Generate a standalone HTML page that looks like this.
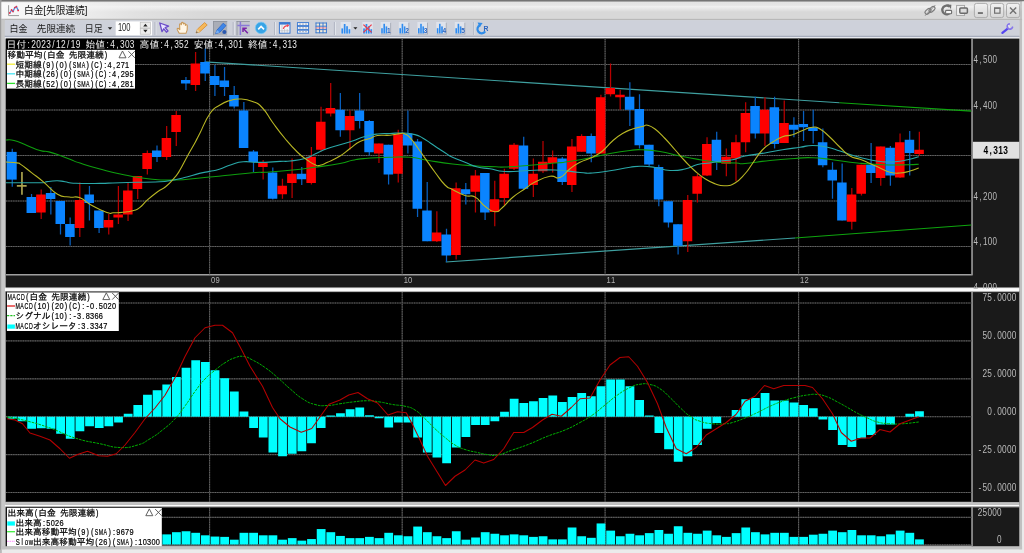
<!DOCTYPE html>
<html lang="ja"><head><meta charset="utf-8"><title>白金[先限連続]</title>
<style>
html,body{margin:0;padding:0;background:#e6e6e6;overflow:hidden}
svg{display:block}
.j{font-family:"Liberation Mono","IPAGothic","Noto Sans CJK JP",monospace}
.m{font-family:"Liberation Mono","IPAGothic",monospace}
.u{font-family:"Liberation Sans","Noto Sans CJK JP",sans-serif}
</style></head><body>
<svg width="1024" height="553" viewBox="0 0 1024 553">
<defs>
<linearGradient id="tb" x1="0" y1="0" x2="0" y2="1"><stop offset="0" stop-color="#9a9a9a"/><stop offset="0.05" stop-color="#e3e3e3"/><stop offset="0.22" stop-color="#e6e6e6"/><stop offset="0.29" stop-color="#f0f0f0"/><stop offset="0.36" stop-color="#ececec"/><stop offset="0.61" stop-color="#d8d8d8"/><stop offset="1" stop-color="#d8d8d8"/></linearGradient>
<linearGradient id="tbh" x1="0" y1="0" x2="1" y2="0"><stop offset="0" stop-color="#fafafa" stop-opacity="0.95"/><stop offset="0.3" stop-color="#f6f6f6" stop-opacity="0.85"/><stop offset="0.65" stop-color="#f2f2f2" stop-opacity="0.35"/><stop offset="1" stop-color="#f0f0f0" stop-opacity="0"/></linearGradient>
<linearGradient id="btn" x1="0" y1="0" x2="0" y2="1"><stop offset="0" stop-color="#f2f2f2"/><stop offset="1" stop-color="#d6d6d6"/></linearGradient>
<linearGradient id="sp" x1="0" y1="0" x2="0" y2="1"><stop offset="0" stop-color="#b8b8b8"/><stop offset="0.35" stop-color="#ffffff"/><stop offset="0.7" stop-color="#f4f4f4"/><stop offset="1" stop-color="#9a9a9a"/></linearGradient>
<clipPath id="c1"><rect x="6" y="38.7" width="965.5" height="235.5"/></clipPath>
<clipPath id="c2"><rect x="6" y="292" width="965.5" height="209.8"/></clipPath>
<clipPath id="c3"><rect x="6" y="507.3" width="965.5" height="38.1"/></clipPath>
<clipPath id="cax"><rect x="972" y="38" width="48" height="251"/></clipPath>
</defs>

<rect x="0" y="0" width="1024" height="553" fill="#e2e2e2"/>
<rect x="0" y="0" width="1024" height="1.5" fill="#757575"/>
<rect x="0" y="0" width="1.6" height="553" fill="#9c9c9c"/>
<rect x="1.6" y="1.4" width="1021" height="17.4" fill="url(#tb)"/>
<rect x="1.6" y="2.4" width="205" height="16.4" fill="url(#tbh)"/>
<rect x="1.6" y="18.8" width="1021" height="1.5" fill="#b8b8b8"/>
<rect x="1.6" y="19.6" width="3.4" height="534" fill="#c8c8c8"/>
<rect x="1019.3" y="19.6" width="2.8" height="530" fill="#c0c0c0"/>
<rect x="1020.4" y="1.4" width="1.2" height="18" fill="#b4b4b4"/>
<rect x="1022.1" y="1.4" width="1.9" height="552" fill="#ebebeb"/>
<rect x="4.8" y="20.2" width="1014.6" height="15.7" fill="#ced1da"/>
<rect x="4.8" y="35.8" width="1014.6" height="1.1" fill="#9aa0b2"/>
<rect x="4.8" y="36.9" width="1014.6" height="1.8" fill="#e6e8ee"/>
<rect x="1.6" y="546" width="1020.5" height="3.6" fill="#c2c2c2"/>
<rect x="1.6" y="549.6" width="1022.4" height="3.4" fill="#ebebeb"/>
<rect x="0" y="549.6" width="1.6" height="3.4" fill="#b8b8b8"/>
<rect x="5.6" y="38.6" width="1013.6999999999999" height="507.6" fill="#1a1a1a"/>
<rect x="6" y="38.7" width="965.5" height="235.5" fill="#000"/>
<rect x="971.2" y="38.7" width="1.7" height="236.7" fill="#939393"/>
<rect x="6" y="274.2" width="965.5" height="1.2" fill="#c4c4c4"/>
<rect x="6" y="292" width="965.5" height="209.8" fill="#000"/>
<rect x="971.2" y="292" width="1.7" height="211.0" fill="#939393"/>
<rect x="6" y="501.8" width="965.5" height="1.2" fill="#c4c4c4"/>
<rect x="6" y="507.3" width="965.5" height="38.099999999999966" fill="#000"/>
<rect x="971.2" y="507.3" width="1.7" height="39.29999999999997" fill="#939393"/>
<rect x="6" y="545.4" width="965.5" height="1.2" fill="#c4c4c4"/>
<rect x="5" y="287.7" width="1014.3" height="3.3" fill="#fbfbfb"/>
<rect x="5" y="287.7" width="1014.3" height="0.5" fill="#d8d8d8"/>
<rect x="5" y="291" width="1014.3" height="1.1" fill="#b0b0b0"/>
<rect x="5" y="502.1" width="1014.3" height="2.8" fill="#c2c2c2"/>
<rect x="5" y="504.8" width="1014.3" height="1.7" fill="#fdfdfd"/>
<rect x="5" y="506.4" width="1014.3" height="0.9" fill="#cfcfcf"/>
<line x1="6" y1="64.5" x2="971.5" y2="64.5" stroke="#383838" stroke-width="1.15"/>
<line x1="6" y1="64.5" x2="971.5" y2="64.5" stroke="#747474" stroke-width="0.75" stroke-dasharray="1.2 1.2"/>
<line x1="6" y1="110" x2="971.5" y2="110" stroke="#383838" stroke-width="1.15"/>
<line x1="6" y1="110" x2="971.5" y2="110" stroke="#747474" stroke-width="0.75" stroke-dasharray="1.2 1.2"/>
<line x1="6" y1="155.5" x2="971.5" y2="155.5" stroke="#383838" stroke-width="1.15"/>
<line x1="6" y1="155.5" x2="971.5" y2="155.5" stroke="#747474" stroke-width="0.75" stroke-dasharray="1.2 1.2"/>
<line x1="6" y1="201" x2="971.5" y2="201" stroke="#383838" stroke-width="1.15"/>
<line x1="6" y1="201" x2="971.5" y2="201" stroke="#747474" stroke-width="0.75" stroke-dasharray="1.2 1.2"/>
<line x1="6" y1="246.5" x2="971.5" y2="246.5" stroke="#383838" stroke-width="1.15"/>
<line x1="6" y1="246.5" x2="971.5" y2="246.5" stroke="#747474" stroke-width="0.75" stroke-dasharray="1.2 1.2"/>
<line x1="6" y1="303" x2="971.5" y2="303" stroke="#383838" stroke-width="1.15"/>
<line x1="6" y1="303" x2="971.5" y2="303" stroke="#747474" stroke-width="0.75" stroke-dasharray="1.2 1.2"/>
<line x1="6" y1="340.9" x2="971.5" y2="340.9" stroke="#383838" stroke-width="1.15"/>
<line x1="6" y1="340.9" x2="971.5" y2="340.9" stroke="#747474" stroke-width="0.75" stroke-dasharray="1.2 1.2"/>
<line x1="6" y1="378.8" x2="971.5" y2="378.8" stroke="#383838" stroke-width="1.15"/>
<line x1="6" y1="378.8" x2="971.5" y2="378.8" stroke="#747474" stroke-width="0.75" stroke-dasharray="1.2 1.2"/>
<line x1="6" y1="416.7" x2="971.5" y2="416.7" stroke="#383838" stroke-width="1.15"/>
<line x1="6" y1="416.7" x2="971.5" y2="416.7" stroke="#747474" stroke-width="0.75" stroke-dasharray="1.2 1.2"/>
<line x1="6" y1="454.6" x2="971.5" y2="454.6" stroke="#383838" stroke-width="1.15"/>
<line x1="6" y1="454.6" x2="971.5" y2="454.6" stroke="#747474" stroke-width="0.75" stroke-dasharray="1.2 1.2"/>
<line x1="6" y1="492.5" x2="971.5" y2="492.5" stroke="#383838" stroke-width="1.15"/>
<line x1="6" y1="492.5" x2="971.5" y2="492.5" stroke="#747474" stroke-width="0.75" stroke-dasharray="1.2 1.2"/>
<line x1="6" y1="517.3" x2="971.5" y2="517.3" stroke="#383838" stroke-width="1.15"/>
<line x1="6" y1="517.3" x2="971.5" y2="517.3" stroke="#747474" stroke-width="0.75" stroke-dasharray="1.2 1.2"/>
<line x1="6" y1="544.8" x2="971.5" y2="544.8" stroke="#383838" stroke-width="1.15"/>
<line x1="6" y1="544.8" x2="971.5" y2="544.8" stroke="#747474" stroke-width="0.75" stroke-dasharray="1.2 1.2"/>
<line x1="209.6" y1="38.7" x2="209.6" y2="274.2" stroke="#383838" stroke-width="1.15"/>
<line x1="209.6" y1="38.7" x2="209.6" y2="274.2" stroke="#747474" stroke-width="0.75" stroke-dasharray="1.2 1.2"/>
<line x1="209.6" y1="292" x2="209.6" y2="501.8" stroke="#383838" stroke-width="1.15"/>
<line x1="209.6" y1="292" x2="209.6" y2="501.8" stroke="#747474" stroke-width="0.75" stroke-dasharray="1.2 1.2"/>
<line x1="209.6" y1="507.3" x2="209.6" y2="545.4" stroke="#383838" stroke-width="1.15"/>
<line x1="209.6" y1="507.3" x2="209.6" y2="545.4" stroke="#747474" stroke-width="0.75" stroke-dasharray="1.2 1.2"/>
<line x1="402.2" y1="38.7" x2="402.2" y2="274.2" stroke="#383838" stroke-width="1.15"/>
<line x1="402.2" y1="38.7" x2="402.2" y2="274.2" stroke="#747474" stroke-width="0.75" stroke-dasharray="1.2 1.2"/>
<line x1="402.2" y1="292" x2="402.2" y2="501.8" stroke="#383838" stroke-width="1.15"/>
<line x1="402.2" y1="292" x2="402.2" y2="501.8" stroke="#747474" stroke-width="0.75" stroke-dasharray="1.2 1.2"/>
<line x1="402.2" y1="507.3" x2="402.2" y2="545.4" stroke="#383838" stroke-width="1.15"/>
<line x1="402.2" y1="507.3" x2="402.2" y2="545.4" stroke="#747474" stroke-width="0.75" stroke-dasharray="1.2 1.2"/>
<line x1="605.1" y1="38.7" x2="605.1" y2="274.2" stroke="#383838" stroke-width="1.15"/>
<line x1="605.1" y1="38.7" x2="605.1" y2="274.2" stroke="#747474" stroke-width="0.75" stroke-dasharray="1.2 1.2"/>
<line x1="605.1" y1="292" x2="605.1" y2="501.8" stroke="#383838" stroke-width="1.15"/>
<line x1="605.1" y1="292" x2="605.1" y2="501.8" stroke="#747474" stroke-width="0.75" stroke-dasharray="1.2 1.2"/>
<line x1="605.1" y1="507.3" x2="605.1" y2="545.4" stroke="#383838" stroke-width="1.15"/>
<line x1="605.1" y1="507.3" x2="605.1" y2="545.4" stroke="#747474" stroke-width="0.75" stroke-dasharray="1.2 1.2"/>
<line x1="798.6" y1="38.7" x2="798.6" y2="274.2" stroke="#383838" stroke-width="1.15"/>
<line x1="798.6" y1="38.7" x2="798.6" y2="274.2" stroke="#747474" stroke-width="0.75" stroke-dasharray="1.2 1.2"/>
<line x1="798.6" y1="292" x2="798.6" y2="501.8" stroke="#383838" stroke-width="1.15"/>
<line x1="798.6" y1="292" x2="798.6" y2="501.8" stroke="#747474" stroke-width="0.75" stroke-dasharray="1.2 1.2"/>
<line x1="798.6" y1="507.3" x2="798.6" y2="545.4" stroke="#383838" stroke-width="1.15"/>
<line x1="798.6" y1="507.3" x2="798.6" y2="545.4" stroke="#747474" stroke-width="0.75" stroke-dasharray="1.2 1.2"/>
<g clip-path="url(#c1)">
<line x1="204.6" y1="61.8" x2="839.5" y2="102.75" stroke="#3fa0a0" stroke-width="1.2"/>
<line x1="839.5" y1="102.75" x2="971.5" y2="111.2" stroke="#0ea40e" stroke-width="1.2"/>
<line x1="445.75" y1="262" x2="795" y2="238" stroke="#3fa0a0" stroke-width="1.2"/>
<line x1="795" y1="238" x2="971.5" y2="225" stroke="#0ea40e" stroke-width="1.2"/>
<line x1="12.25" x2="12.25" y1="148.7" y2="186.7" stroke="#0860c0" stroke-width="1.25"/>
<rect x="6.6" y="151.9" width="10.1" height="27.70" fill="#0a84ff"/>
<line x1="21.95" x2="21.95" y1="172" y2="194.8" stroke="#aaa24e" stroke-width="1.7"/>
<line x1="16.85" x2="26.65" y1="185.9" y2="185.9" stroke="#aaa24e" stroke-width="1.7"/>
<line x1="31.55" x2="31.55" y1="194" y2="213" stroke="#0860c0" stroke-width="1.25"/>
<rect x="26.55" y="197" width="9.5" height="16.00" fill="#0a84ff"/>
<line x1="41.20" x2="41.20" y1="189.5" y2="219" stroke="#b80000" stroke-width="1.25"/>
<rect x="36.20" y="194.5" width="9.5" height="18.00" fill="#ff0000"/>
<line x1="50.85" x2="50.85" y1="187" y2="214.5" stroke="#0860c0" stroke-width="1.25"/>
<rect x="45.85" y="193" width="9.5" height="6.00" fill="#0a84ff"/>
<line x1="60.50" x2="60.50" y1="201" y2="234.5" stroke="#0860c0" stroke-width="1.25"/>
<rect x="55.50" y="201" width="9.5" height="23.00" fill="#0a84ff"/>
<line x1="70.15" x2="70.15" y1="217.5" y2="245.5" stroke="#0860c0" stroke-width="1.25"/>
<rect x="65.15" y="224" width="9.5" height="13.00" fill="#0a84ff"/>
<line x1="79.80" x2="79.80" y1="182.5" y2="237" stroke="#b80000" stroke-width="1.25"/>
<rect x="74.80" y="200" width="9.5" height="28.00" fill="#ff0000"/>
<line x1="89.45" x2="89.45" y1="186" y2="220.5" stroke="#0860c0" stroke-width="1.25"/>
<rect x="84.45" y="194.5" width="9.5" height="8.50" fill="#0a84ff"/>
<line x1="99.10" x2="99.10" y1="210.5" y2="233" stroke="#0860c0" stroke-width="1.25"/>
<rect x="94.10" y="210.5" width="9.5" height="17.50" fill="#0a84ff"/>
<line x1="108.75" x2="108.75" y1="214" y2="234.5" stroke="#b80000" stroke-width="1.25"/>
<rect x="103.75" y="220" width="9.5" height="7.50" fill="#ff0000"/>
<line x1="118.40" x2="118.40" y1="186" y2="224" stroke="#b80000" stroke-width="1.25"/>
<rect x="113.40" y="214.5" width="9.5" height="3.00" fill="#ff0000"/>
<line x1="128.05" x2="128.05" y1="182.5" y2="221" stroke="#b80000" stroke-width="1.25"/>
<rect x="123.05" y="190.5" width="9.5" height="24.00" fill="#ff0000"/>
<line x1="137.70" x2="137.70" y1="176" y2="199" stroke="#b80000" stroke-width="1.25"/>
<rect x="132.70" y="176" width="9.5" height="13.00" fill="#ff0000"/>
<line x1="147.35" x2="147.35" y1="150.5" y2="174.5" stroke="#b80000" stroke-width="1.25"/>
<rect x="142.35" y="153" width="9.5" height="16.00" fill="#ff0000"/>
<line x1="157.00" x2="157.00" y1="145.5" y2="162" stroke="#0860c0" stroke-width="1.25"/>
<rect x="152.00" y="150.5" width="9.5" height="6.50" fill="#0a84ff"/>
<line x1="166.65" x2="166.65" y1="126" y2="160" stroke="#b80000" stroke-width="1.25"/>
<rect x="161.65" y="138" width="9.5" height="19.00" fill="#ff0000"/>
<line x1="176.30" x2="176.30" y1="111" y2="146" stroke="#b80000" stroke-width="1.25"/>
<rect x="171.30" y="115" width="9.5" height="17.00" fill="#ff0000"/>
<line x1="185.95" x2="185.95" y1="77" y2="90" stroke="#0860c0" stroke-width="1.25"/>
<rect x="180.95" y="80" width="9.5" height="3.50" fill="#0a84ff"/>
<line x1="195.60" x2="195.60" y1="52" y2="91" stroke="#b80000" stroke-width="1.25"/>
<rect x="190.60" y="63.5" width="9.5" height="21.50" fill="#ff0000"/>
<line x1="205.25" x2="205.25" y1="48.5" y2="81" stroke="#0860c0" stroke-width="1.25"/>
<rect x="200.25" y="62" width="9.5" height="11.50" fill="#0a84ff"/>
<line x1="214.90" x2="214.90" y1="65" y2="96" stroke="#0860c0" stroke-width="1.25"/>
<rect x="209.90" y="76" width="9.5" height="9.00" fill="#0a84ff"/>
<line x1="224.55" x2="224.55" y1="67" y2="96" stroke="#0860c0" stroke-width="1.25"/>
<rect x="219.55" y="80.5" width="9.5" height="6.50" fill="#0a84ff"/>
<line x1="234.20" x2="234.20" y1="86" y2="108.5" stroke="#0860c0" stroke-width="1.25"/>
<rect x="229.20" y="95" width="9.5" height="11.50" fill="#0a84ff"/>
<line x1="243.85" x2="243.85" y1="102" y2="148" stroke="#0860c0" stroke-width="1.25"/>
<rect x="238.85" y="110.5" width="9.5" height="37.50" fill="#0a84ff"/>
<line x1="253.50" x2="253.50" y1="150" y2="172" stroke="#0860c0" stroke-width="1.25"/>
<rect x="248.50" y="151.5" width="9.5" height="10.50" fill="#0a84ff"/>
<line x1="263.15" x2="263.15" y1="160" y2="179.5" stroke="#b80000" stroke-width="1.25"/>
<rect x="258.15" y="163" width="9.5" height="4.00" fill="#ff0000"/>
<line x1="272.80" x2="272.80" y1="167.5" y2="199.5" stroke="#0860c0" stroke-width="1.25"/>
<rect x="267.80" y="172.5" width="9.5" height="26.25" fill="#0a84ff"/>
<line x1="282.45" x2="282.45" y1="178.75" y2="198.75" stroke="#b80000" stroke-width="1.25"/>
<rect x="277.45" y="185.75" width="9.5" height="8.50" fill="#ff0000"/>
<line x1="292.10" x2="292.10" y1="158.5" y2="198" stroke="#b80000" stroke-width="1.25"/>
<rect x="287.10" y="173.75" width="9.5" height="9.25" fill="#ff0000"/>
<line x1="301.75" x2="301.75" y1="167" y2="185" stroke="#0860c0" stroke-width="1.25"/>
<rect x="296.75" y="173.75" width="9.5" height="5.50" fill="#0a84ff"/>
<line x1="311.40" x2="311.40" y1="147" y2="184.5" stroke="#b80000" stroke-width="1.25"/>
<rect x="306.40" y="156.75" width="9.5" height="26.25" fill="#ff0000"/>
<line x1="321.05" x2="321.05" y1="106.75" y2="151.5" stroke="#b80000" stroke-width="1.25"/>
<rect x="316.05" y="121.75" width="9.5" height="28.00" fill="#ff0000"/>
<line x1="330.70" x2="330.70" y1="83" y2="116.5" stroke="#b80000" stroke-width="1.25"/>
<rect x="325.70" y="108" width="9.5" height="5.50" fill="#ff0000"/>
<line x1="340.35" x2="340.35" y1="93" y2="136.75" stroke="#0860c0" stroke-width="1.25"/>
<rect x="335.35" y="109.75" width="9.5" height="20.50" fill="#0a84ff"/>
<line x1="350.00" x2="350.00" y1="110.5" y2="149.75" stroke="#b80000" stroke-width="1.25"/>
<rect x="345.00" y="116" width="9.5" height="14.25" fill="#ff0000"/>
<line x1="359.65" x2="359.65" y1="93" y2="128.5" stroke="#0860c0" stroke-width="1.25"/>
<rect x="354.65" y="110.5" width="9.5" height="10.50" fill="#0a84ff"/>
<line x1="369.30" x2="369.30" y1="120" y2="155.5" stroke="#0860c0" stroke-width="1.25"/>
<rect x="364.30" y="121" width="9.5" height="31.25" fill="#0a84ff"/>
<line x1="378.95" x2="378.95" y1="143.5" y2="163" stroke="#b80000" stroke-width="1.25"/>
<rect x="373.95" y="143.5" width="9.5" height="10.00" fill="#ff0000"/>
<line x1="388.60" x2="388.60" y1="144.75" y2="184.5" stroke="#0860c0" stroke-width="1.25"/>
<rect x="383.60" y="144.75" width="9.5" height="29.75" fill="#0a84ff"/>
<line x1="398.25" x2="398.25" y1="129.75" y2="182.5" stroke="#b80000" stroke-width="1.25"/>
<rect x="393.25" y="134.25" width="9.5" height="39.50" fill="#ff0000"/>
<line x1="407.90" x2="407.90" y1="110.5" y2="153.5" stroke="#0860c0" stroke-width="1.25"/>
<rect x="402.90" y="133.5" width="9.5" height="12.00" fill="#0a84ff"/>
<line x1="417.55" x2="417.55" y1="139" y2="217" stroke="#0860c0" stroke-width="1.25"/>
<rect x="412.55" y="141.5" width="9.5" height="67.25" fill="#0a84ff"/>
<line x1="427.20" x2="427.20" y1="182" y2="241.25" stroke="#0860c0" stroke-width="1.25"/>
<rect x="422.20" y="210.5" width="9.5" height="30.75" fill="#0a84ff"/>
<line x1="436.85" x2="436.85" y1="211.25" y2="242" stroke="#b80000" stroke-width="1.25"/>
<rect x="431.85" y="232.5" width="9.5" height="8.75" fill="#ff0000"/>
<line x1="446.50" x2="446.50" y1="228.75" y2="262" stroke="#0860c0" stroke-width="1.25"/>
<rect x="441.50" y="234.5" width="9.5" height="21.00" fill="#0a84ff"/>
<line x1="456.15" x2="456.15" y1="182.5" y2="259.5" stroke="#b80000" stroke-width="1.25"/>
<rect x="451.15" y="188.25" width="9.5" height="66.75" fill="#ff0000"/>
<line x1="465.80" x2="465.80" y1="183" y2="204.5" stroke="#0860c0" stroke-width="1.25"/>
<rect x="460.80" y="189.25" width="9.5" height="5.00" fill="#0a84ff"/>
<line x1="475.45" x2="475.45" y1="170" y2="212.5" stroke="#b80000" stroke-width="1.25"/>
<rect x="470.45" y="175.5" width="9.5" height="16.25" fill="#ff0000"/>
<line x1="485.10" x2="485.10" y1="173" y2="220" stroke="#0860c0" stroke-width="1.25"/>
<rect x="480.10" y="173" width="9.5" height="39.50" fill="#0a84ff"/>
<line x1="494.75" x2="494.75" y1="180.75" y2="226.25" stroke="#b80000" stroke-width="1.25"/>
<rect x="489.75" y="199.25" width="9.5" height="12.75" fill="#ff0000"/>
<line x1="504.40" x2="504.40" y1="168.75" y2="205" stroke="#b80000" stroke-width="1.25"/>
<rect x="499.40" y="173.75" width="9.5" height="24.25" fill="#ff0000"/>
<line x1="514.05" x2="514.05" y1="143" y2="170" stroke="#b80000" stroke-width="1.25"/>
<rect x="509.05" y="144.75" width="9.5" height="24.00" fill="#ff0000"/>
<line x1="523.70" x2="523.70" y1="136.75" y2="189.5" stroke="#0860c0" stroke-width="1.25"/>
<rect x="518.70" y="145.5" width="9.5" height="43.25" fill="#0a84ff"/>
<line x1="533.35" x2="533.35" y1="158.5" y2="197" stroke="#b80000" stroke-width="1.25"/>
<rect x="528.35" y="173.75" width="9.5" height="11.25" fill="#ff0000"/>
<line x1="543.00" x2="543.00" y1="141" y2="173" stroke="#b80000" stroke-width="1.25"/>
<rect x="538.00" y="161.75" width="9.5" height="9.50" fill="#ff0000"/>
<line x1="552.65" x2="552.65" y1="150.5" y2="172.5" stroke="#b80000" stroke-width="1.25"/>
<rect x="547.65" y="157.25" width="9.5" height="5.75" fill="#ff0000"/>
<line x1="562.30" x2="562.30" y1="157" y2="185" stroke="#0860c0" stroke-width="1.25"/>
<rect x="557.30" y="158.5" width="9.5" height="23.50" fill="#0a84ff"/>
<line x1="571.95" x2="571.95" y1="139" y2="192" stroke="#b80000" stroke-width="1.25"/>
<rect x="566.95" y="146.5" width="9.5" height="38.50" fill="#ff0000"/>
<line x1="581.60" x2="581.60" y1="134.25" y2="151.75" stroke="#b80000" stroke-width="1.25"/>
<rect x="576.60" y="136" width="9.5" height="15.75" fill="#ff0000"/>
<line x1="591.25" x2="591.25" y1="133.5" y2="162.25" stroke="#0860c0" stroke-width="1.25"/>
<rect x="586.25" y="136" width="9.5" height="17.50" fill="#0a84ff"/>
<line x1="600.90" x2="600.90" y1="94.75" y2="153.5" stroke="#b80000" stroke-width="1.25"/>
<rect x="595.90" y="97.25" width="9.5" height="56.25" fill="#ff0000"/>
<line x1="610.55" x2="610.55" y1="63.5" y2="96.5" stroke="#b80000" stroke-width="1.25"/>
<rect x="605.55" y="88" width="9.5" height="6.25" fill="#ff0000"/>
<line x1="620.20" x2="620.20" y1="89.75" y2="109.75" stroke="#b80000" stroke-width="1.25"/>
<rect x="615.20" y="94.75" width="9.5" height="2.50" fill="#ff0000"/>
<line x1="629.85" x2="629.85" y1="82.25" y2="126" stroke="#0860c0" stroke-width="1.25"/>
<rect x="624.85" y="96.75" width="9.5" height="13.00" fill="#0a84ff"/>
<line x1="639.50" x2="639.50" y1="94.25" y2="148.5" stroke="#0860c0" stroke-width="1.25"/>
<rect x="634.50" y="109" width="9.5" height="36.25" fill="#0a84ff"/>
<line x1="649.15" x2="649.15" y1="144.75" y2="166" stroke="#0860c0" stroke-width="1.25"/>
<rect x="644.15" y="144.75" width="9.5" height="19.75" fill="#0a84ff"/>
<line x1="658.80" x2="658.80" y1="164.75" y2="206.25" stroke="#0860c0" stroke-width="1.25"/>
<rect x="653.80" y="167" width="9.5" height="32.50" fill="#0a84ff"/>
<line x1="668.45" x2="668.45" y1="201.25" y2="227.5" stroke="#0860c0" stroke-width="1.25"/>
<rect x="663.45" y="201.25" width="9.5" height="21.25" fill="#0a84ff"/>
<line x1="678.10" x2="678.10" y1="224.25" y2="254.5" stroke="#0860c0" stroke-width="1.25"/>
<rect x="673.10" y="224.25" width="9.5" height="21.50" fill="#0a84ff"/>
<line x1="687.75" x2="687.75" y1="195" y2="252" stroke="#b80000" stroke-width="1.25"/>
<rect x="682.75" y="200" width="9.5" height="41.25" fill="#ff0000"/>
<line x1="697.40" x2="697.40" y1="174" y2="202.5" stroke="#b80000" stroke-width="1.25"/>
<rect x="692.40" y="176.25" width="9.5" height="17.50" fill="#ff0000"/>
<line x1="707.05" x2="707.05" y1="137.25" y2="176" stroke="#b80000" stroke-width="1.25"/>
<rect x="702.05" y="144" width="9.5" height="31.50" fill="#ff0000"/>
<line x1="716.70" x2="716.70" y1="131.75" y2="170" stroke="#0860c0" stroke-width="1.25"/>
<rect x="711.70" y="139.75" width="9.5" height="22.50" fill="#0a84ff"/>
<line x1="726.35" x2="726.35" y1="148.5" y2="176.25" stroke="#b80000" stroke-width="1.25"/>
<rect x="721.35" y="156.75" width="9.5" height="7.00" fill="#ff0000"/>
<line x1="736.00" x2="736.00" y1="134.75" y2="181.25" stroke="#b80000" stroke-width="1.25"/>
<rect x="731.00" y="142.25" width="9.5" height="16.25" fill="#ff0000"/>
<line x1="745.65" x2="745.65" y1="102.25" y2="152.25" stroke="#b80000" stroke-width="1.25"/>
<rect x="740.65" y="113" width="9.5" height="29.25" fill="#ff0000"/>
<line x1="755.30" x2="755.30" y1="96.75" y2="138.5" stroke="#0860c0" stroke-width="1.25"/>
<rect x="750.30" y="106" width="9.5" height="27.50" fill="#0a84ff"/>
<line x1="764.95" x2="764.95" y1="97.25" y2="146" stroke="#b80000" stroke-width="1.25"/>
<rect x="759.95" y="109.75" width="9.5" height="23.75" fill="#ff0000"/>
<line x1="774.60" x2="774.60" y1="96.75" y2="148.5" stroke="#0860c0" stroke-width="1.25"/>
<rect x="769.60" y="107.25" width="9.5" height="36.75" fill="#0a84ff"/>
<line x1="784.25" x2="784.25" y1="100.5" y2="143" stroke="#b80000" stroke-width="1.25"/>
<rect x="779.25" y="123" width="9.5" height="20.00" fill="#ff0000"/>
<line x1="793.90" x2="793.90" y1="117.25" y2="137.25" stroke="#0860c0" stroke-width="1.25"/>
<rect x="788.90" y="124.75" width="9.5" height="5.00" fill="#0a84ff"/>
<line x1="803.55" x2="803.55" y1="111" y2="141" stroke="#0860c0" stroke-width="1.25"/>
<rect x="798.55" y="124" width="9.5" height="3.25" fill="#0a84ff"/>
<line x1="813.20" x2="813.20" y1="109.75" y2="143.5" stroke="#0860c0" stroke-width="1.25"/>
<rect x="808.20" y="127.25" width="9.5" height="3.75" fill="#0a84ff"/>
<line x1="822.85" x2="822.85" y1="128.5" y2="167.25" stroke="#0860c0" stroke-width="1.25"/>
<rect x="817.85" y="142.25" width="9.5" height="23.00" fill="#0a84ff"/>
<line x1="832.50" x2="832.50" y1="162.25" y2="198.75" stroke="#0860c0" stroke-width="1.25"/>
<rect x="827.50" y="169.75" width="9.5" height="10.75" fill="#0a84ff"/>
<line x1="842.15" x2="842.15" y1="163.5" y2="220.5" stroke="#0860c0" stroke-width="1.25"/>
<rect x="837.15" y="182.5" width="9.5" height="38.00" fill="#0a84ff"/>
<line x1="851.80" x2="851.80" y1="188" y2="229.5" stroke="#b80000" stroke-width="1.25"/>
<rect x="846.80" y="194.5" width="9.5" height="27.25" fill="#ff0000"/>
<line x1="861.45" x2="861.45" y1="164.75" y2="195.5" stroke="#b80000" stroke-width="1.25"/>
<rect x="856.45" y="164.75" width="9.5" height="29.00" fill="#ff0000"/>
<line x1="871.10" x2="871.10" y1="143" y2="183" stroke="#0860c0" stroke-width="1.25"/>
<rect x="866.10" y="164.75" width="9.5" height="8.25" fill="#0a84ff"/>
<line x1="880.75" x2="880.75" y1="146.5" y2="185.75" stroke="#b80000" stroke-width="1.25"/>
<rect x="875.75" y="146.5" width="9.5" height="31.50" fill="#ff0000"/>
<line x1="890.40" x2="890.40" y1="146" y2="185.75" stroke="#0860c0" stroke-width="1.25"/>
<rect x="885.40" y="147.75" width="9.5" height="27.75" fill="#0a84ff"/>
<line x1="900.05" x2="900.05" y1="133.5" y2="178" stroke="#b80000" stroke-width="1.25"/>
<rect x="895.05" y="142.25" width="9.5" height="35.25" fill="#ff0000"/>
<line x1="909.70" x2="909.70" y1="131" y2="175.5" stroke="#0860c0" stroke-width="1.25"/>
<rect x="904.70" y="139.75" width="9.5" height="13.25" fill="#0a84ff"/>
<line x1="919.35" x2="919.35" y1="131.75" y2="156" stroke="#b80000" stroke-width="1.25"/>
<rect x="914.35" y="149.75" width="9.5" height="4.25" fill="#ff0000"/>
<path d="M6.00 140.00 C8.13 140.13 8.40 139.06 14.00 140.50 C19.60 141.94 20.07 142.73 27.00 145.40 C33.93 148.07 34.16 148.77 40.00 150.50 C45.84 152.23 43.35 150.51 48.90 151.90 C54.45 153.29 55.01 153.67 60.80 155.70 C66.59 157.73 65.48 157.53 70.60 159.50 C75.72 161.47 72.16 160.57 80.00 163.10 C87.84 165.63 88.00 165.83 100.00 169.00 C112.00 172.17 111.67 172.33 125.00 175.00 C138.33 177.67 136.67 177.67 150.00 179.00 C163.33 180.33 161.67 180.27 175.00 180.00 C188.33 179.73 186.67 179.20 200.00 178.00 C213.33 176.80 210.07 176.97 225.00 175.50 C239.93 174.03 245.33 173.37 256.00 172.50 C265.00 171.63 256.00 172.85 265.00 172.25 C274.07 171.65 276.67 171.58 290.00 170.25 C303.33 168.92 301.67 169.05 315.00 167.25 C328.33 165.45 330.00 165.37 340.00 163.50 C350.00 161.63 345.83 161.58 352.50 160.25 C359.17 158.92 355.00 159.30 365.00 158.50 C375.00 157.70 378.00 157.58 390.00 157.25 C402.00 156.92 400.00 156.45 410.00 157.25 C420.00 158.05 416.17 158.45 427.50 160.25 C438.83 162.05 439.17 162.47 452.50 164.00 C465.83 165.53 465.90 165.27 477.50 166.00 C489.10 166.73 488.67 166.48 496.00 166.75 C503.33 167.02 496.00 167.40 505.00 167.00 C514.07 166.60 516.67 166.32 530.00 165.25 C543.33 164.18 545.00 163.93 555.00 163.00 C565.00 162.07 557.50 163.28 567.50 161.75 C577.50 160.22 581.17 159.45 592.50 157.25 C603.83 155.05 600.00 155.30 610.00 153.50 C620.00 151.70 621.33 151.50 630.00 150.50 C638.67 149.50 634.50 149.48 642.50 149.75 C650.50 150.02 650.00 149.83 660.00 151.50 C670.00 153.17 669.33 153.80 680.00 156.00 C690.67 158.20 690.00 158.08 700.00 159.75 C710.00 161.42 707.90 161.38 717.50 162.25 C727.10 163.12 728.67 162.67 736.00 163.00 C743.33 163.33 736.00 164.17 745.00 163.50 C754.07 162.83 756.67 161.83 770.00 160.50 C783.33 159.17 783.67 159.23 795.00 158.50 C806.33 157.77 802.50 157.42 812.50 157.75 C822.50 158.08 820.50 158.35 832.50 159.75 C844.50 161.15 844.17 161.67 857.50 163.00 C870.83 164.33 869.17 164.28 882.50 164.75 C895.83 165.22 897.83 164.88 907.50 164.75 C917.17 164.62 915.75 164.38 918.75 164.25" fill="none" stroke="#0e9e0e" stroke-width="1.1" stroke-linejoin="round" />
<path d="M6.00 182.70 C15.87 182.70 32.07 182.99 43.00 182.70 C47.00 182.41 43.13 182.11 47.00 181.60 C50.87 181.09 52.70 180.75 57.50 180.80 C62.30 180.85 60.07 181.13 65.00 181.80 C69.93 182.47 66.67 182.87 76.00 183.30 C85.33 183.73 88.32 183.56 100.00 183.40 C111.68 183.24 103.91 183.15 119.80 182.70 C135.69 182.25 146.32 182.23 159.60 181.70 C169.60 181.17 163.23 181.74 169.60 180.70 C175.97 179.66 175.55 179.75 183.50 177.80 C191.45 175.85 192.49 175.11 199.40 173.40 C206.31 171.69 204.09 172.52 209.40 171.40 C214.71 170.28 213.49 170.96 219.30 169.20 C225.11 167.44 224.83 166.77 231.20 164.80 C237.57 162.83 235.76 162.44 243.20 161.80 C250.64 161.16 249.29 162.51 259.10 162.40 C268.91 162.29 271.76 161.77 280.00 161.40 C288.24 161.03 283.33 161.77 290.00 161.00 C296.67 160.23 298.33 160.37 305.00 158.50 C311.67 156.63 309.00 156.67 315.00 154.00 C321.00 151.33 320.83 150.97 327.50 148.50 C334.17 146.03 333.33 146.75 340.00 144.75 C346.67 142.75 345.83 143.20 352.50 141.00 C359.17 138.80 358.33 138.37 365.00 136.50 C371.67 134.63 370.83 134.80 377.50 134.00 C384.17 133.20 383.33 133.77 390.00 133.50 C396.67 133.23 395.83 132.71 402.50 133.00 C409.17 133.29 409.53 133.19 415.00 134.60 C420.47 136.01 418.84 136.01 423.00 138.30 C427.16 140.59 426.60 140.56 430.60 143.20 C434.60 145.84 433.95 145.51 438.00 148.20 C442.05 150.89 441.93 150.89 445.80 153.30 C449.67 155.71 447.38 154.86 452.50 157.25 C457.62 159.64 458.33 159.65 465.00 162.25 C471.67 164.85 470.83 165.27 477.50 167.00 C484.17 168.73 482.67 167.55 490.00 168.75 C497.33 169.95 494.33 171.03 505.00 171.50 C515.67 171.97 516.67 170.90 530.00 170.50 C543.33 170.10 541.67 169.47 555.00 170.00 C568.33 170.53 570.00 171.70 580.00 172.50 C590.00 173.30 584.50 173.47 592.50 173.00 C600.50 172.53 600.00 172.28 610.00 170.75 C620.00 169.22 621.33 168.45 630.00 167.25 C638.67 166.05 635.83 166.18 642.50 166.25 C649.17 166.32 647.67 166.37 655.00 167.50 C662.33 168.63 662.00 170.10 670.00 170.50 C678.00 170.90 677.67 170.60 685.00 169.00 C692.33 167.40 690.83 166.10 697.50 164.50 C704.17 162.90 704.00 163.93 710.00 163.00 C716.00 162.07 714.00 161.87 720.00 161.00 C726.00 160.13 725.83 161.08 732.50 159.75 C739.17 158.42 736.33 157.80 745.00 156.00 C753.67 154.20 755.00 154.67 765.00 153.00 C775.00 151.33 773.17 151.28 782.50 149.75 C791.83 148.22 792.00 148.38 800.00 147.25 C808.00 146.12 805.17 145.50 812.50 145.50 C819.83 145.50 820.17 145.78 827.50 147.25 C834.83 148.72 832.67 148.67 840.00 151.00 C847.33 153.33 847.00 153.67 855.00 156.00 C863.00 158.33 862.67 158.22 870.00 159.75 C877.33 161.28 875.83 161.22 882.50 161.75 C889.17 162.28 888.33 162.28 895.00 161.75 C901.67 161.22 901.17 161.08 907.50 159.75 C913.83 158.42 915.75 157.55 918.75 156.75" fill="none" stroke="#2aa8a8" stroke-width="1.1" stroke-linejoin="round" />
<path d="M6.00 162.00 C8.93 162.24 13.00 162.21 17.00 162.90 C21.00 163.59 17.13 162.01 21.00 164.60 C24.87 167.19 25.53 168.01 31.50 172.60 C37.47 177.19 36.47 176.01 43.40 181.80 C50.33 187.59 50.54 190.25 57.50 194.30 C64.46 198.35 63.50 196.07 69.50 197.00 C75.50 197.93 74.00 195.51 80.00 197.80 C86.00 200.09 84.83 201.65 92.00 205.60 C99.17 209.55 101.30 210.68 106.90 212.60 C112.50 214.52 109.56 212.80 113.00 212.80 C116.44 212.80 116.07 212.87 119.80 212.60 C123.53 212.33 123.29 212.33 127.00 211.80 C130.71 211.27 130.31 211.72 133.70 210.60 C137.09 209.48 135.97 210.51 139.70 207.60 C143.43 204.69 142.93 203.94 147.70 199.70 C152.47 195.46 152.83 195.17 157.60 191.70 C162.37 188.23 161.36 190.14 165.60 186.70 C169.84 183.26 169.79 183.04 173.50 178.80 C177.21 174.56 175.77 176.91 179.50 170.80 C183.23 164.69 183.26 163.61 187.50 155.90 C191.74 148.19 192.07 148.01 195.40 141.90 C198.73 135.79 196.11 140.57 200.00 133.00 C203.89 125.43 204.67 120.97 210.00 113.50 C215.33 106.03 214.67 108.47 220.00 105.00 C225.33 101.53 224.67 102.10 230.00 100.50 C235.33 98.90 234.00 98.73 240.00 99.00 C246.00 99.27 246.50 99.10 252.50 101.50 C258.50 103.90 257.17 102.47 262.50 108.00 C267.83 113.53 266.50 114.12 272.50 122.25 C278.50 130.38 278.33 130.50 285.00 138.50 C291.67 146.50 291.50 146.45 297.50 152.25 C303.50 158.05 302.83 156.92 307.50 160.25 C312.17 163.58 311.67 163.42 315.00 164.75 C318.33 166.08 316.67 165.92 320.00 165.25 C323.33 164.58 322.17 164.72 327.50 162.25 C332.83 159.78 334.00 159.67 340.00 156.00 C346.00 152.33 344.67 152.37 350.00 148.50 C355.33 144.63 354.67 144.17 360.00 141.50 C365.33 138.83 365.33 140.10 370.00 138.50 C374.67 136.90 372.17 136.37 377.50 135.50 C382.83 134.63 384.00 135.76 390.00 135.25 C396.00 134.74 396.00 133.93 400.00 133.60 C404.00 133.27 402.23 132.80 405.00 134.00 C407.77 135.20 406.93 134.31 410.40 138.10 C413.87 141.89 414.29 143.13 418.00 148.20 C421.71 153.27 419.77 150.69 424.30 157.10 C428.83 163.51 429.48 164.81 435.00 172.25 C440.52 179.69 440.33 180.40 445.00 185.00 C449.67 189.60 447.17 186.70 452.50 189.50 C457.83 192.30 459.00 193.50 465.00 195.50 C471.00 197.50 469.67 194.13 475.00 197.00 C480.33 199.87 479.67 202.32 485.00 206.25 C490.33 210.18 490.33 211.42 495.00 211.75 C499.67 212.08 497.83 211.30 502.50 207.50 C507.17 203.70 506.50 202.50 512.50 197.50 C518.50 192.50 519.00 192.88 525.00 188.75 C531.00 184.62 528.33 185.33 535.00 182.00 C541.67 178.67 543.33 177.45 550.00 176.25 C556.67 175.05 554.67 179.50 560.00 177.50 C565.33 175.50 564.67 172.82 570.00 168.75 C575.33 164.68 574.00 165.32 580.00 162.25 C586.00 159.18 586.50 160.25 592.50 157.25 C598.50 154.25 597.17 155.33 602.50 151.00 C607.83 146.67 607.17 145.67 612.50 141.00 C617.83 136.33 617.17 136.70 622.50 133.50 C627.83 130.30 627.17 130.87 632.50 129.00 C637.83 127.13 638.50 127.50 642.50 126.50 C646.50 125.50 644.17 124.58 647.50 125.25 C650.83 125.92 650.33 125.47 655.00 129.00 C659.67 132.53 659.67 132.97 665.00 138.50 C670.33 144.03 669.67 143.75 675.00 149.75 C680.33 155.75 679.67 155.33 685.00 161.00 C690.33 166.67 689.67 166.27 695.00 171.00 C700.33 175.73 699.67 175.35 705.00 178.75 C710.33 182.15 709.67 181.88 715.00 183.75 C720.33 185.62 719.67 185.95 725.00 185.75 C730.33 185.55 729.67 186.20 735.00 183.00 C740.33 179.80 740.33 178.95 745.00 173.75 C749.67 168.55 747.83 169.90 752.50 163.50 C757.17 157.10 757.17 155.42 762.50 149.75 C767.83 144.08 767.17 145.72 772.50 142.25 C777.83 138.78 777.17 138.75 782.50 136.75 C787.83 134.75 787.17 136.42 792.50 134.75 C797.83 133.08 797.17 132.50 802.50 130.50 C807.83 128.50 807.83 127.65 812.50 127.25 C817.17 126.85 815.33 126.33 820.00 129.00 C824.67 131.67 824.67 132.38 830.00 137.25 C835.33 142.12 834.67 142.25 840.00 147.25 C845.33 152.25 844.67 152.80 850.00 156.00 C855.33 159.20 854.67 157.25 860.00 159.25 C865.33 161.25 864.67 161.17 870.00 163.50 C875.33 165.83 874.67 165.67 880.00 168.00 C885.33 170.33 884.67 170.92 890.00 172.25 C895.33 173.58 894.67 173.33 900.00 173.00 C905.33 172.67 905.00 172.33 910.00 171.00 C915.00 169.67 916.42 168.80 918.75 168.00" fill="none" stroke="#b8b624" stroke-width="1.1" stroke-linejoin="round" />
</g>
<g clip-path="url(#c2)">
<rect x="7.95" y="416.70" width="8.8" height="2.05" fill="#00ffff"/>
<rect x="17.60" y="416.70" width="8.8" height="4.55" fill="#00ffff"/>
<rect x="27.25" y="416.70" width="8.8" height="12.05" fill="#00ffff"/>
<rect x="36.90" y="416.70" width="8.8" height="11.55" fill="#00ffff"/>
<rect x="46.55" y="416.70" width="8.8" height="12.05" fill="#00ffff"/>
<rect x="56.20" y="416.70" width="8.8" height="17.05" fill="#00ffff"/>
<rect x="65.85" y="416.70" width="8.8" height="22.05" fill="#00ffff"/>
<rect x="75.50" y="416.70" width="8.8" height="14.55" fill="#00ffff"/>
<rect x="85.15" y="416.70" width="8.8" height="9.55" fill="#00ffff"/>
<rect x="94.80" y="416.70" width="8.8" height="11.30" fill="#00ffff"/>
<rect x="104.45" y="416.70" width="8.8" height="9.55" fill="#00ffff"/>
<rect x="114.10" y="416.70" width="8.8" height="5.80" fill="#00ffff"/>
<rect x="123.75" y="413.75" width="8.8" height="2.95" fill="#00ffff"/>
<rect x="133.40" y="405.00" width="8.8" height="11.70" fill="#00ffff"/>
<rect x="143.05" y="394.75" width="8.8" height="21.95" fill="#00ffff"/>
<rect x="152.70" y="390.25" width="8.8" height="26.45" fill="#00ffff"/>
<rect x="162.35" y="384.50" width="8.8" height="32.20" fill="#00ffff"/>
<rect x="172.00" y="377.00" width="8.8" height="39.70" fill="#00ffff"/>
<rect x="181.65" y="367.75" width="8.8" height="48.95" fill="#00ffff"/>
<rect x="191.30" y="360.25" width="8.8" height="56.45" fill="#00ffff"/>
<rect x="200.95" y="362.00" width="8.8" height="54.70" fill="#00ffff"/>
<rect x="210.60" y="370.25" width="8.8" height="46.45" fill="#00ffff"/>
<rect x="220.25" y="378.25" width="8.8" height="38.45" fill="#00ffff"/>
<rect x="229.90" y="391.50" width="8.8" height="25.20" fill="#00ffff"/>
<rect x="239.55" y="411.50" width="8.8" height="5.20" fill="#00ffff"/>
<rect x="249.20" y="416.70" width="8.8" height="11.30" fill="#00ffff"/>
<rect x="258.85" y="416.70" width="8.8" height="20.80" fill="#00ffff"/>
<rect x="268.50" y="416.70" width="8.8" height="35.80" fill="#00ffff"/>
<rect x="278.15" y="416.70" width="8.8" height="39.55" fill="#00ffff"/>
<rect x="287.80" y="416.70" width="8.8" height="37.05" fill="#00ffff"/>
<rect x="297.45" y="416.70" width="8.8" height="34.55" fill="#00ffff"/>
<rect x="307.10" y="416.70" width="8.8" height="26.55" fill="#00ffff"/>
<rect x="316.75" y="416.70" width="8.8" height="11.30" fill="#00ffff"/>
<rect x="326.40" y="415.50" width="8.8" height="1.20" fill="#00ffff"/>
<rect x="336.05" y="413.25" width="8.8" height="3.45" fill="#00ffff"/>
<rect x="345.70" y="409.25" width="8.8" height="7.45" fill="#00ffff"/>
<rect x="355.35" y="407.50" width="8.8" height="9.20" fill="#00ffff"/>
<rect x="365.00" y="415.25" width="8.8" height="1.45" fill="#00ffff"/>
<rect x="374.65" y="416.70" width="8.8" height="1.55" fill="#00ffff"/>
<rect x="384.30" y="416.70" width="8.8" height="10.80" fill="#00ffff"/>
<rect x="393.95" y="416.70" width="8.8" height="5.80" fill="#00ffff"/>
<rect x="403.60" y="416.70" width="8.8" height="5.80" fill="#00ffff"/>
<rect x="413.25" y="416.70" width="8.8" height="20.80" fill="#00ffff"/>
<rect x="422.90" y="416.70" width="8.8" height="35.80" fill="#00ffff"/>
<rect x="432.55" y="416.70" width="8.8" height="40.80" fill="#00ffff"/>
<rect x="442.20" y="416.70" width="8.8" height="46.55" fill="#00ffff"/>
<rect x="451.85" y="416.70" width="8.8" height="30.80" fill="#00ffff"/>
<rect x="461.50" y="416.70" width="8.8" height="20.30" fill="#00ffff"/>
<rect x="471.15" y="416.70" width="8.8" height="8.30" fill="#00ffff"/>
<rect x="480.80" y="416.70" width="8.8" height="8.30" fill="#00ffff"/>
<rect x="490.45" y="416.70" width="8.8" height="4.55" fill="#00ffff"/>
<rect x="500.10" y="411.75" width="8.8" height="4.95" fill="#00ffff"/>
<rect x="509.75" y="398.75" width="8.8" height="17.95" fill="#00ffff"/>
<rect x="519.40" y="403.00" width="8.8" height="13.70" fill="#00ffff"/>
<rect x="529.05" y="401.25" width="8.8" height="15.45" fill="#00ffff"/>
<rect x="538.70" y="398.00" width="8.8" height="18.70" fill="#00ffff"/>
<rect x="548.35" y="395.50" width="8.8" height="21.20" fill="#00ffff"/>
<rect x="558.00" y="402.00" width="8.8" height="14.70" fill="#00ffff"/>
<rect x="567.65" y="397.00" width="8.8" height="19.70" fill="#00ffff"/>
<rect x="577.30" y="393.00" width="8.8" height="23.70" fill="#00ffff"/>
<rect x="586.95" y="396.25" width="8.8" height="20.45" fill="#00ffff"/>
<rect x="596.60" y="386.25" width="8.8" height="30.45" fill="#00ffff"/>
<rect x="606.25" y="379.50" width="8.8" height="37.20" fill="#00ffff"/>
<rect x="615.90" y="379.50" width="8.8" height="37.20" fill="#00ffff"/>
<rect x="625.55" y="386.25" width="8.8" height="30.45" fill="#00ffff"/>
<rect x="635.20" y="400.00" width="8.8" height="16.70" fill="#00ffff"/>
<rect x="644.85" y="415.50" width="8.8" height="1.20" fill="#00ffff"/>
<rect x="654.50" y="416.70" width="8.8" height="16.30" fill="#00ffff"/>
<rect x="664.15" y="416.70" width="8.8" height="32.55" fill="#00ffff"/>
<rect x="673.80" y="416.70" width="8.8" height="45.05" fill="#00ffff"/>
<rect x="683.45" y="416.70" width="8.8" height="39.55" fill="#00ffff"/>
<rect x="693.10" y="416.70" width="8.8" height="28.30" fill="#00ffff"/>
<rect x="702.75" y="416.70" width="8.8" height="12.05" fill="#00ffff"/>
<rect x="712.40" y="416.70" width="8.8" height="6.30" fill="#00ffff"/>
<rect x="731.70" y="410.00" width="8.8" height="6.70" fill="#00ffff"/>
<rect x="741.35" y="399.25" width="8.8" height="17.45" fill="#00ffff"/>
<rect x="751.00" y="398.00" width="8.8" height="18.70" fill="#00ffff"/>
<rect x="760.65" y="393.00" width="8.8" height="23.70" fill="#00ffff"/>
<rect x="770.30" y="400.50" width="8.8" height="16.20" fill="#00ffff"/>
<rect x="779.95" y="400.50" width="8.8" height="16.20" fill="#00ffff"/>
<rect x="789.60" y="402.50" width="8.8" height="14.20" fill="#00ffff"/>
<rect x="799.25" y="405.00" width="8.8" height="11.70" fill="#00ffff"/>
<rect x="808.90" y="408.25" width="8.8" height="8.45" fill="#00ffff"/>
<rect x="818.55" y="416.70" width="8.8" height="2.80" fill="#00ffff"/>
<rect x="828.20" y="416.70" width="8.8" height="13.30" fill="#00ffff"/>
<rect x="837.85" y="416.70" width="8.8" height="28.30" fill="#00ffff"/>
<rect x="847.50" y="416.70" width="8.8" height="30.30" fill="#00ffff"/>
<rect x="857.15" y="416.70" width="8.8" height="21.55" fill="#00ffff"/>
<rect x="866.80" y="416.70" width="8.8" height="18.30" fill="#00ffff"/>
<rect x="876.45" y="416.70" width="8.8" height="7.80" fill="#00ffff"/>
<rect x="886.10" y="416.70" width="8.8" height="7.80" fill="#00ffff"/>
<rect x="905.40" y="413.75" width="8.8" height="2.95" fill="#00ffff"/>
<rect x="915.05" y="411.25" width="8.8" height="5.45" fill="#00ffff"/>
<path d="M7.00 417.00 C11.80 417.93 13.53 417.57 25.00 420.50 C36.47 423.43 36.67 423.33 50.00 428.00 C63.33 432.67 61.67 433.80 75.00 438.00 C88.33 442.20 88.00 441.22 100.00 443.75 C112.00 446.28 110.00 447.17 120.00 447.50 C130.00 447.83 129.50 447.33 137.50 445.00 C145.50 442.67 143.33 442.75 150.00 438.75 C156.67 434.75 155.83 435.33 162.50 430.00 C169.17 424.67 169.00 425.15 175.00 418.75 C181.00 412.35 179.67 413.27 185.00 406.00 C190.33 398.73 189.67 398.70 195.00 391.50 C200.33 384.30 199.67 384.67 205.00 379.00 C210.33 373.33 209.67 374.58 215.00 370.25 C220.33 365.92 219.67 366.08 225.00 362.75 C230.33 359.42 230.00 359.42 235.00 357.75 C240.00 356.08 239.08 355.90 243.75 356.50 C248.42 357.10 246.83 357.07 252.50 360.00 C258.17 362.93 258.33 362.83 265.00 367.50 C271.67 372.17 270.83 371.83 277.50 377.50 C284.17 383.17 283.33 383.08 290.00 388.75 C296.67 394.42 295.83 394.55 302.50 398.75 C309.17 402.95 308.33 402.70 315.00 404.50 C321.67 406.30 320.83 405.70 327.50 405.50 C334.17 405.30 333.33 404.68 340.00 403.75 C346.67 402.82 345.17 402.80 352.50 402.00 C359.83 401.20 360.17 400.75 367.50 400.75 C374.83 400.75 373.33 401.00 380.00 402.00 C386.67 403.00 385.83 403.37 392.50 404.50 C399.17 405.63 399.00 404.78 405.00 406.25 C411.00 407.72 409.67 406.67 415.00 410.00 C420.33 413.33 419.67 413.75 425.00 418.75 C430.33 423.75 429.67 423.75 435.00 428.75 C440.33 433.75 439.67 433.17 445.00 437.50 C450.33 441.83 449.67 441.80 455.00 445.00 C460.33 448.20 459.00 447.50 465.00 449.50 C471.00 451.50 471.63 451.17 477.50 452.50 C483.37 453.83 481.67 453.83 487.00 454.50 C492.33 455.17 490.70 456.20 497.50 455.00 C504.30 453.80 503.83 453.00 512.50 450.00 C521.17 447.00 520.67 447.42 530.00 443.75 C539.33 440.08 538.17 439.92 547.50 436.25 C556.83 432.58 556.33 433.67 565.00 430.00 C573.67 426.33 572.67 426.50 580.00 422.50 C587.33 418.50 585.83 419.67 592.50 415.00 C599.17 410.33 598.33 410.33 605.00 405.00 C611.67 399.67 610.83 399.67 617.50 395.00 C624.17 390.33 624.00 390.37 630.00 387.50 C636.00 384.63 634.67 385.05 640.00 384.25 C645.33 383.45 644.67 383.30 650.00 384.50 C655.33 385.70 654.67 385.28 660.00 388.75 C665.33 392.22 664.67 392.50 670.00 397.50 C675.33 402.50 674.67 402.50 680.00 407.50 C685.33 412.50 684.67 412.58 690.00 416.25 C695.33 419.92 694.00 419.25 700.00 421.25 C706.00 423.25 705.83 423.08 712.50 423.75 C719.17 424.42 719.67 424.08 725.00 423.75 C730.33 423.42 727.17 424.03 732.50 422.50 C737.83 420.97 738.33 420.67 745.00 418.00 C751.67 415.33 750.83 415.63 757.50 412.50 C764.17 409.37 763.33 409.25 770.00 406.25 C776.67 403.25 775.83 403.58 782.50 401.25 C789.17 398.92 788.33 399.17 795.00 397.50 C801.67 395.83 801.50 395.80 807.50 395.00 C813.50 394.20 812.17 393.97 817.50 394.50 C822.83 395.03 822.17 395.00 827.50 397.00 C832.83 399.00 832.17 399.20 837.50 402.00 C842.83 404.80 842.17 404.50 847.50 407.50 C852.83 410.50 852.17 410.45 857.50 413.25 C862.83 416.05 862.17 415.67 867.50 418.00 C872.83 420.33 871.50 420.47 877.50 422.00 C883.50 423.53 883.33 423.28 890.00 423.75 C896.67 424.22 894.83 424.22 902.50 423.75 C910.17 423.28 914.42 422.47 918.75 422.00" fill="none" stroke="#00b000" stroke-width="1.0" stroke-linejoin="round" stroke-dasharray="2.6 1"/>
<polyline points="7,418.75 15,420 22.5,423.75 30,433 40,436.25 50,440 60,448.75 69.5,458.25 77.5,454.5 87.5,451.25 98.75,455.75 107.5,456.25 116.25,453.75 125,445 135,432.5 145,418.75 155,408 165,395.25 175,377.75 185,356.5 195,337.75 205,327.75 215,325.25 222.5,325.25 232.5,332.75 242.5,351.5 250,366.25 262.5,386.25 272.5,407.5 280,418.75 290,427 301.25,432.25 311.75,428.5 321,415.5 329,404.25 340,400 348.75,395 358,392.5 367.5,398.75 377.5,403 388,415 397.5,411.75 406.25,412.75 412.5,424.5 420,440 427.5,456.25 437.5,472.5 445.5,485.5 455,476.25 465,470 475,460 483.75,463.1 493.75,459.5 503.75,448.75 513.75,432.5 523.75,432.5 532.5,427.5 542.5,420 552,414.25 561.25,416.25 571.25,407.5 580,398.75 590,398 600,380 610,365 620,357.5 628.75,356.75 637.5,366.25 647.5,382.5 657.5,403.75 666.25,427.5 676.25,448.75 686.25,453.75 696.25,447.5 706.25,435 716.25,428.75 726.25,422.5 736,414.5 740,408.75 745,401.25 755,396.25 764.5,385.5 773.75,388.75 783.75,385.5 795,385.5 805,385.5 812.5,387.5 822.5,398.75 832.5,413.75 841.25,432.5 851.25,441.25 861.25,438 870,438 880,429.5 890,432 900,423.75 910,420 918.75,416.75" fill="none" stroke="#b40000" stroke-width="1.05" stroke-linejoin="round" />
</g>
<g clip-path="url(#c3)">
<rect x="7.95" y="534.00" width="8.8" height="10.50" fill="#00ffff"/>
<rect x="17.60" y="534.00" width="8.8" height="10.50" fill="#00ffff"/>
<rect x="27.25" y="534.00" width="8.8" height="10.50" fill="#00ffff"/>
<rect x="36.90" y="534.00" width="8.8" height="10.50" fill="#00ffff"/>
<rect x="46.55" y="534.00" width="8.8" height="10.50" fill="#00ffff"/>
<rect x="56.20" y="534.00" width="8.8" height="10.50" fill="#00ffff"/>
<rect x="65.85" y="534.00" width="8.8" height="10.50" fill="#00ffff"/>
<rect x="75.50" y="534.00" width="8.8" height="10.50" fill="#00ffff"/>
<rect x="85.15" y="534.00" width="8.8" height="10.50" fill="#00ffff"/>
<rect x="94.80" y="534.00" width="8.8" height="10.50" fill="#00ffff"/>
<rect x="104.45" y="534.00" width="8.8" height="10.50" fill="#00ffff"/>
<rect x="114.10" y="534.00" width="8.8" height="10.50" fill="#00ffff"/>
<rect x="123.75" y="534.00" width="8.8" height="10.50" fill="#00ffff"/>
<rect x="133.40" y="534.00" width="8.8" height="10.50" fill="#00ffff"/>
<rect x="143.05" y="534.00" width="8.8" height="10.50" fill="#00ffff"/>
<rect x="152.70" y="534.00" width="8.8" height="10.50" fill="#00ffff"/>
<rect x="162.35" y="534.38" width="8.8" height="10.12" fill="#00ffff"/>
<rect x="172.00" y="532.19" width="8.8" height="12.31" fill="#00ffff"/>
<rect x="181.65" y="531.25" width="8.8" height="13.25" fill="#00ffff"/>
<rect x="191.30" y="532.81" width="8.8" height="11.69" fill="#00ffff"/>
<rect x="200.95" y="535.31" width="8.8" height="9.19" fill="#00ffff"/>
<rect x="210.60" y="536.56" width="8.8" height="7.94" fill="#00ffff"/>
<rect x="220.25" y="536.88" width="8.8" height="7.62" fill="#00ffff"/>
<rect x="229.90" y="539.69" width="8.8" height="4.81" fill="#00ffff"/>
<rect x="239.55" y="532.81" width="8.8" height="11.69" fill="#00ffff"/>
<rect x="249.20" y="532.81" width="8.8" height="11.69" fill="#00ffff"/>
<rect x="258.85" y="535.31" width="8.8" height="9.19" fill="#00ffff"/>
<rect x="268.50" y="535.31" width="8.8" height="9.19" fill="#00ffff"/>
<rect x="278.15" y="539.69" width="8.8" height="4.81" fill="#00ffff"/>
<rect x="287.80" y="538.12" width="8.8" height="6.38" fill="#00ffff"/>
<rect x="297.45" y="540.62" width="8.8" height="3.88" fill="#00ffff"/>
<rect x="307.10" y="539.06" width="8.8" height="5.44" fill="#00ffff"/>
<rect x="316.75" y="529.06" width="8.8" height="15.44" fill="#00ffff"/>
<rect x="326.40" y="532.19" width="8.8" height="12.31" fill="#00ffff"/>
<rect x="336.05" y="535.94" width="8.8" height="8.56" fill="#00ffff"/>
<rect x="345.70" y="538.12" width="8.8" height="6.38" fill="#00ffff"/>
<rect x="355.35" y="538.12" width="8.8" height="6.38" fill="#00ffff"/>
<rect x="365.00" y="536.88" width="8.8" height="7.62" fill="#00ffff"/>
<rect x="374.65" y="538.12" width="8.8" height="6.38" fill="#00ffff"/>
<rect x="384.30" y="532.81" width="8.8" height="11.69" fill="#00ffff"/>
<rect x="393.95" y="535.31" width="8.8" height="9.19" fill="#00ffff"/>
<rect x="403.60" y="536.25" width="8.8" height="8.25" fill="#00ffff"/>
<rect x="413.25" y="526.56" width="8.8" height="17.94" fill="#00ffff"/>
<rect x="422.90" y="532.19" width="8.8" height="12.31" fill="#00ffff"/>
<rect x="432.55" y="536.25" width="8.8" height="8.25" fill="#00ffff"/>
<rect x="442.20" y="538.12" width="8.8" height="6.38" fill="#00ffff"/>
<rect x="451.85" y="531.25" width="8.8" height="13.25" fill="#00ffff"/>
<rect x="461.50" y="539.69" width="8.8" height="4.81" fill="#00ffff"/>
<rect x="471.15" y="537.50" width="8.8" height="7.00" fill="#00ffff"/>
<rect x="480.80" y="532.19" width="8.8" height="12.31" fill="#00ffff"/>
<rect x="490.45" y="533.75" width="8.8" height="10.75" fill="#00ffff"/>
<rect x="500.10" y="535.31" width="8.8" height="9.19" fill="#00ffff"/>
<rect x="509.75" y="534.38" width="8.8" height="10.12" fill="#00ffff"/>
<rect x="519.40" y="535.31" width="8.8" height="9.19" fill="#00ffff"/>
<rect x="529.05" y="536.88" width="8.8" height="7.62" fill="#00ffff"/>
<rect x="538.70" y="536.25" width="8.8" height="8.25" fill="#00ffff"/>
<rect x="548.35" y="539.38" width="8.8" height="5.12" fill="#00ffff"/>
<rect x="558.00" y="539.38" width="8.8" height="5.12" fill="#00ffff"/>
<rect x="567.65" y="527.50" width="8.8" height="17.00" fill="#00ffff"/>
<rect x="577.30" y="536.25" width="8.8" height="8.25" fill="#00ffff"/>
<rect x="586.95" y="537.81" width="8.8" height="6.69" fill="#00ffff"/>
<rect x="596.60" y="523.44" width="8.8" height="21.06" fill="#00ffff"/>
<rect x="606.25" y="530.62" width="8.8" height="13.88" fill="#00ffff"/>
<rect x="615.90" y="536.25" width="8.8" height="8.25" fill="#00ffff"/>
<rect x="625.55" y="533.75" width="8.8" height="10.75" fill="#00ffff"/>
<rect x="635.20" y="535.31" width="8.8" height="9.19" fill="#00ffff"/>
<rect x="644.85" y="533.12" width="8.8" height="11.38" fill="#00ffff"/>
<rect x="654.50" y="530.00" width="8.8" height="14.50" fill="#00ffff"/>
<rect x="664.15" y="533.75" width="8.8" height="10.75" fill="#00ffff"/>
<rect x="673.80" y="526.25" width="8.8" height="18.25" fill="#00ffff"/>
<rect x="683.45" y="532.81" width="8.8" height="11.69" fill="#00ffff"/>
<rect x="693.10" y="533.75" width="8.8" height="10.75" fill="#00ffff"/>
<rect x="702.75" y="530.62" width="8.8" height="13.88" fill="#00ffff"/>
<rect x="712.40" y="535.31" width="8.8" height="9.19" fill="#00ffff"/>
<rect x="722.05" y="536.88" width="8.8" height="7.62" fill="#00ffff"/>
<rect x="731.70" y="533.12" width="8.8" height="11.38" fill="#00ffff"/>
<rect x="741.35" y="527.50" width="8.8" height="17.00" fill="#00ffff"/>
<rect x="751.00" y="532.19" width="8.8" height="12.31" fill="#00ffff"/>
<rect x="760.65" y="534.38" width="8.8" height="10.12" fill="#00ffff"/>
<rect x="770.30" y="532.81" width="8.8" height="11.69" fill="#00ffff"/>
<rect x="779.95" y="532.81" width="8.8" height="11.69" fill="#00ffff"/>
<rect x="789.60" y="536.88" width="8.8" height="7.62" fill="#00ffff"/>
<rect x="799.25" y="536.88" width="8.8" height="7.62" fill="#00ffff"/>
<rect x="808.90" y="534.69" width="8.8" height="9.81" fill="#00ffff"/>
<rect x="818.55" y="533.75" width="8.8" height="10.75" fill="#00ffff"/>
<rect x="828.20" y="530.62" width="8.8" height="13.88" fill="#00ffff"/>
<rect x="837.85" y="532.19" width="8.8" height="12.31" fill="#00ffff"/>
<rect x="847.50" y="530.00" width="8.8" height="14.50" fill="#00ffff"/>
<rect x="857.15" y="535.31" width="8.8" height="9.19" fill="#00ffff"/>
<rect x="866.80" y="535.31" width="8.8" height="9.19" fill="#00ffff"/>
<rect x="876.45" y="536.25" width="8.8" height="8.25" fill="#00ffff"/>
<rect x="886.10" y="534.38" width="8.8" height="10.12" fill="#00ffff"/>
<rect x="895.75" y="530.62" width="8.8" height="13.88" fill="#00ffff"/>
<rect x="905.40" y="532.81" width="8.8" height="11.69" fill="#00ffff"/>
<rect x="915.05" y="539.38" width="8.8" height="5.12" fill="#00ffff"/>
</g>
<g clip-path="url(#cax)">
<text transform="translate(973.30 63.00) scale(0.730 1)" x="3.25 9.76 16.27 22.77 29.28" y="0" font-size="11.00" fill="#bababa" class="u" text-anchor="middle">4,500</text>
<text transform="translate(973.30 108.50) scale(0.730 1)" x="3.25 9.76 16.27 22.77 29.28" y="0" font-size="11.00" fill="#bababa" class="u" text-anchor="middle">4,400</text>
<text transform="translate(973.30 199.50) scale(0.730 1)" x="3.25 9.76 16.27 22.77 29.28" y="0" font-size="11.00" fill="#bababa" class="u" text-anchor="middle">4,200</text>
<text transform="translate(973.30 245.00) scale(0.730 1)" x="3.25 9.76 16.27 22.77 29.28" y="0" font-size="11.00" fill="#bababa" class="u" text-anchor="middle">4,100</text>
<text transform="translate(973.30 290.50) scale(0.730 1)" x="3.25 9.76 16.27 22.77 29.28" y="0" font-size="11.00" fill="#bababa" class="u" text-anchor="middle">4,000</text>
</g>
<rect x="972.9" y="141.8" width="46.39999999999998" height="16.9" fill="#e1e1e1"/>
<text transform="translate(983.30 154.00) scale(0.790 1)" x="3.13 9.40 15.67 21.94 28.21" y="0" font-size="10.60" fill="#000" font-weight="bold" class="u" text-anchor="middle">4,313</text>
<text transform="translate(982.30 301.00) scale(0.753 1)" x="3.25 9.76 16.27 22.77 29.28 35.79 42.29" y="0" font-size="11.00" fill="#bababa" class="u" text-anchor="middle">75.0000</text>
<text transform="translate(982.30 338.90) scale(0.753 1)" x="3.25 9.76 16.27 22.77 29.28 35.79 42.29" y="0" font-size="11.00" fill="#bababa" class="u" text-anchor="middle">50.0000</text>
<text transform="translate(982.30 376.80) scale(0.753 1)" x="3.25 9.76 16.27 22.77 29.28 35.79 42.29" y="0" font-size="11.00" fill="#bababa" class="u" text-anchor="middle">25.0000</text>
<text transform="translate(987.20 414.70) scale(0.753 1)" x="3.25 9.76 16.27 22.77 29.28 35.79" y="0" font-size="11.00" fill="#bababa" class="u" text-anchor="middle">0.0000</text>
<text transform="translate(977.40 452.60) scale(0.753 1)" x="3.25 9.76 16.27 22.77 29.28 35.79 42.29 48.80" y="0" font-size="11.00" fill="#bababa" class="u" text-anchor="middle">-25.0000</text>
<text transform="translate(977.40 490.50) scale(0.753 1)" x="3.25 9.76 16.27 22.77 29.28 35.79 42.29 48.80" y="0" font-size="11.00" fill="#bababa" class="u" text-anchor="middle">-50.0000</text>
<text transform="translate(977.55 515.90) scale(0.745 1)" x="3.25 9.76 16.27 22.77 29.28" y="0" font-size="11.00" fill="#bababa" class="u" text-anchor="middle">25000</text>
<text transform="translate(996.95 542.80) scale(0.745 1)" x="3.25" y="0" font-size="11.00" fill="#bababa" class="u" text-anchor="middle">0</text>
<text transform="translate(210.90 282.60) scale(0.827 1)" x="2.72 8.16" y="0" font-size="9.20" fill="#b4b4b4" class="u" text-anchor="middle">09</text>
<text transform="translate(403.50 282.60) scale(0.827 1)" x="2.72 8.16" y="0" font-size="9.20" fill="#b4b4b4" class="u" text-anchor="middle">10</text>
<text transform="translate(606.40 282.60) scale(0.827 1)" x="2.72 8.16" y="0" font-size="9.20" fill="#b4b4b4" class="u" text-anchor="middle">11</text>
<text transform="translate(799.90 282.60) scale(0.827 1)" x="2.72 8.16" y="0" font-size="9.20" fill="#b4b4b4" class="u" text-anchor="middle">12</text>
<text x="6.60" y="48.00" font-size="9.85" fill="#ebebeb" class="j" textLength="19.70" lengthAdjust="spacingAndGlyphs">日付</text>
<text transform="translate(26.30 48.00) scale(0.824 1)" x="2.99 8.96 14.94 20.91 26.88 32.86 38.83 44.81 50.78 56.75 62.73" y="0" font-size="10.10" fill="#ebebeb" class="u" text-anchor="middle">:2023/12/19</text>
<text x="85.40" y="48.00" font-size="9.85" fill="#ebebeb" class="j" textLength="19.70" lengthAdjust="spacingAndGlyphs">始値</text>
<text transform="translate(105.10 48.00) scale(0.824 1)" x="2.99 8.96 14.94 20.91 26.88 32.86" y="0" font-size="10.10" fill="#ebebeb" class="u" text-anchor="middle">:4,303</text>
<text x="139.57" y="48.00" font-size="9.85" fill="#ebebeb" class="j" textLength="19.70" lengthAdjust="spacingAndGlyphs">高値</text>
<text transform="translate(159.27 48.00) scale(0.824 1)" x="2.99 8.96 14.94 20.91 26.88 32.86" y="0" font-size="10.10" fill="#ebebeb" class="u" text-anchor="middle">:4,352</text>
<text x="193.75" y="48.00" font-size="9.85" fill="#ebebeb" class="j" textLength="19.70" lengthAdjust="spacingAndGlyphs">安値</text>
<text transform="translate(213.45 48.00) scale(0.824 1)" x="2.99 8.96 14.94 20.91 26.88 32.86" y="0" font-size="10.10" fill="#ebebeb" class="u" text-anchor="middle">:4,301</text>
<text x="247.92" y="48.00" font-size="9.85" fill="#ebebeb" class="j" textLength="19.70" lengthAdjust="spacingAndGlyphs">終値</text>
<text transform="translate(267.62 48.00) scale(0.824 1)" x="2.99 8.96 14.94 20.91 26.88 32.86" y="0" font-size="10.10" fill="#ebebeb" class="u" text-anchor="middle">:4,313</text>
<rect x="6.7" y="49.8" width="128.3" height="38.8" fill="#ffffff"/>
<rect x="5.9" y="49.5" width="1" height="39.099999999999994" fill="#101010"/>
<rect x="5.9" y="49.199999999999996" width="129.10000000000002" height="0.7" fill="#202020"/>
<text x="7.50" y="58.10" font-size="8.76" fill="#000" stroke="#000" stroke-width="0.22" class="j" textLength="35.04" lengthAdjust="spacingAndGlyphs">移動平均</text>
<text transform="translate(42.54 58.10) scale(0.796 1)" x="2.75" y="0" font-size="9.30" fill="#000" stroke="#000" stroke-width="0.22" class="u" text-anchor="middle">(</text>
<text x="46.92" y="58.10" font-size="8.76" fill="#000" stroke="#000" stroke-width="0.22" class="j" textLength="17.52" lengthAdjust="spacingAndGlyphs">白金</text>
<text x="68.82" y="58.10" font-size="8.76" fill="#000" stroke="#000" stroke-width="0.22" class="j" textLength="35.04" lengthAdjust="spacingAndGlyphs">先限連続</text>
<text transform="translate(103.86 58.10) scale(0.796 1)" x="2.75" y="0" font-size="9.30" fill="#000" stroke="#000" stroke-width="0.22" class="u" text-anchor="middle">)</text>
<path d="M119.00 57.8 L122.50 51.0 L126.00 57.8 Z" fill="none" stroke="#505050" stroke-width="0.9"/>
<path d="M128.40 51.199999999999996 L134.80 57.8 M134.80 51.199999999999996 L128.40 57.8" fill="none" stroke="#505050" stroke-width="0.9"/>
<line x1="7.1000000000000005" x2="15.0" y1="64.19999999999999" y2="64.19999999999999" stroke="#f2ee3a" stroke-width="1.3"/>
<text x="15.50" y="67.60" font-size="8.76" fill="#000" stroke="#000" stroke-width="0.22" class="j" textLength="26.28" lengthAdjust="spacingAndGlyphs">短期線</text>
<text transform="translate(41.78 67.60) scale(0.796 1)" x="2.75 8.25 13.75 19.25 24.75 30.25 35.76" y="0" font-size="9.30" fill="#000" stroke="#000" stroke-width="0.22" class="u" text-anchor="middle">(9)(0)(</text>
<text transform="translate(72.44 67.60) scale(0.565 1)" x="3.87 11.62 19.37" y="0" font-size="9.30" fill="#000" stroke="#000" stroke-width="0.22" class="u" text-anchor="middle">SMA</text>
<text transform="translate(85.58 67.60) scale(0.796 1)" x="2.75 8.25" y="0" font-size="9.30" fill="#000" stroke="#000" stroke-width="0.22" class="u" text-anchor="middle">)(</text>
<text transform="translate(94.34 67.60) scale(0.652 1)" x="3.36" y="0" font-size="9.30" fill="#000" stroke="#000" stroke-width="0.22" class="u" text-anchor="middle">C</text>
<text transform="translate(98.72 67.60) scale(0.796 1)" x="2.75 8.25 13.75 19.25 24.75 30.25 35.76" y="0" font-size="9.30" fill="#000" stroke="#000" stroke-width="0.22" class="u" text-anchor="middle">):4,271</text>
<line x1="7.1000000000000005" x2="15.0" y1="73.79999999999998" y2="73.79999999999998" stroke="#48e4f4" stroke-width="1.3"/>
<text x="15.50" y="77.20" font-size="8.76" fill="#000" stroke="#000" stroke-width="0.22" class="j" textLength="26.28" lengthAdjust="spacingAndGlyphs">中期線</text>
<text transform="translate(41.78 77.20) scale(0.796 1)" x="2.75 8.25 13.75 19.25 24.75 30.25 35.76 41.26" y="0" font-size="9.30" fill="#000" stroke="#000" stroke-width="0.22" class="u" text-anchor="middle">(26)(0)(</text>
<text transform="translate(76.82 77.20) scale(0.565 1)" x="3.87 11.62 19.37" y="0" font-size="9.30" fill="#000" stroke="#000" stroke-width="0.22" class="u" text-anchor="middle">SMA</text>
<text transform="translate(89.96 77.20) scale(0.796 1)" x="2.75 8.25" y="0" font-size="9.30" fill="#000" stroke="#000" stroke-width="0.22" class="u" text-anchor="middle">)(</text>
<text transform="translate(98.72 77.20) scale(0.652 1)" x="3.36" y="0" font-size="9.30" fill="#000" stroke="#000" stroke-width="0.22" class="u" text-anchor="middle">C</text>
<text transform="translate(103.10 77.20) scale(0.796 1)" x="2.75 8.25 13.75 19.25 24.75 30.25 35.76" y="0" font-size="9.30" fill="#000" stroke="#000" stroke-width="0.22" class="u" text-anchor="middle">):4,295</text>
<line x1="7.1000000000000005" x2="15.0" y1="83.39999999999999" y2="83.39999999999999" stroke="#2fe02f" stroke-width="1.3"/>
<text x="15.50" y="86.80" font-size="8.76" fill="#000" stroke="#000" stroke-width="0.22" class="j" textLength="26.28" lengthAdjust="spacingAndGlyphs">長期線</text>
<text transform="translate(41.78 86.80) scale(0.796 1)" x="2.75 8.25 13.75 19.25 24.75 30.25 35.76 41.26" y="0" font-size="9.30" fill="#000" stroke="#000" stroke-width="0.22" class="u" text-anchor="middle">(52)(0)(</text>
<text transform="translate(76.82 86.80) scale(0.565 1)" x="3.87 11.62 19.37" y="0" font-size="9.30" fill="#000" stroke="#000" stroke-width="0.22" class="u" text-anchor="middle">SMA</text>
<text transform="translate(89.96 86.80) scale(0.796 1)" x="2.75 8.25" y="0" font-size="9.30" fill="#000" stroke="#000" stroke-width="0.22" class="u" text-anchor="middle">)(</text>
<text transform="translate(98.72 86.80) scale(0.652 1)" x="3.36" y="0" font-size="9.30" fill="#000" stroke="#000" stroke-width="0.22" class="u" text-anchor="middle">C</text>
<text transform="translate(103.10 86.80) scale(0.796 1)" x="2.75 8.25 13.75 19.25 24.75 30.25 35.76" y="0" font-size="9.30" fill="#000" stroke="#000" stroke-width="0.22" class="u" text-anchor="middle">):4,281</text>
<rect x="6.7" y="292.2" width="112.1" height="38.8" fill="#ffffff"/>
<rect x="5.9" y="291.9" width="1" height="39.099999999999994" fill="#101010"/>
<rect x="5.9" y="291.59999999999997" width="112.89999999999999" height="0.7" fill="#202020"/>
<text transform="translate(7.50 299.90) scale(0.565 1)" x="3.87 11.62 19.37 27.11" y="0" font-size="9.30" fill="#000" stroke="#000" stroke-width="0.22" class="u" text-anchor="middle">MACD</text>
<text transform="translate(25.02 299.90) scale(0.796 1)" x="2.75" y="0" font-size="9.30" fill="#000" stroke="#000" stroke-width="0.22" class="u" text-anchor="middle">(</text>
<text x="29.40" y="299.90" font-size="8.76" fill="#000" stroke="#000" stroke-width="0.22" class="j" textLength="17.52" lengthAdjust="spacingAndGlyphs">白金</text>
<text x="51.30" y="299.90" font-size="8.76" fill="#000" stroke="#000" stroke-width="0.22" class="j" textLength="35.04" lengthAdjust="spacingAndGlyphs">先限連続</text>
<text transform="translate(86.34 299.90) scale(0.796 1)" x="2.75" y="0" font-size="9.30" fill="#000" stroke="#000" stroke-width="0.22" class="u" text-anchor="middle">)</text>
<path d="M102.80 299.59999999999997 L106.30 292.8 L109.80 299.59999999999997 Z" fill="none" stroke="#505050" stroke-width="0.9"/>
<path d="M112.20 293.0 L118.60 299.59999999999997 M118.60 293.0 L112.20 299.59999999999997" fill="none" stroke="#505050" stroke-width="0.9"/>
<line x1="7.1000000000000005" x2="15.0" y1="306.0" y2="306.0" stroke="#e02020" stroke-width="1.3"/>
<text transform="translate(15.50 309.40) scale(0.565 1)" x="3.87 11.62 19.37 27.11" y="0" font-size="9.30" fill="#000" stroke="#000" stroke-width="0.22" class="u" text-anchor="middle">MACD</text>
<text transform="translate(33.02 309.40) scale(0.796 1)" x="2.75 8.25 13.75 19.25 24.75 30.25 35.76 41.26 46.76" y="0" font-size="9.30" fill="#000" stroke="#000" stroke-width="0.22" class="u" text-anchor="middle">(10)(20)(</text>
<text transform="translate(72.44 309.40) scale(0.652 1)" x="3.36" y="0" font-size="9.30" fill="#000" stroke="#000" stroke-width="0.22" class="u" text-anchor="middle">C</text>
<text transform="translate(76.82 309.40) scale(0.796 1)" x="2.75 8.25 13.75 19.25 24.75 30.25 35.76 41.26 46.76" y="0" font-size="9.30" fill="#000" stroke="#000" stroke-width="0.22" class="u" text-anchor="middle">):-0.5020</text>
<line x1="7.1000000000000005" x2="15.0" y1="315.6" y2="315.6" stroke="#20c020" stroke-width="1.2" stroke-dasharray="2.2 1"/>
<text x="15.50" y="319.00" font-size="8.76" fill="#000" stroke="#000" stroke-width="0.22" class="j" textLength="35.04" lengthAdjust="spacingAndGlyphs">シグナル</text>
<text transform="translate(50.54 319.00) scale(0.796 1)" x="2.75 8.25 13.75 19.25 24.75 30.25 35.76 41.26 46.76 52.26 57.76 63.26" y="0" font-size="9.30" fill="#000" stroke="#000" stroke-width="0.22" class="u" text-anchor="middle">(10):-3.8366</text>
<rect x="7.3" y="324.50" width="7.6" height="4.2" fill="#00ffff"/>
<text transform="translate(15.50 328.60) scale(0.565 1)" x="3.87 11.62 19.37 27.11" y="0" font-size="9.30" fill="#000" stroke="#000" stroke-width="0.22" class="u" text-anchor="middle">MACD</text>
<text x="33.02" y="328.60" font-size="8.76" fill="#000" stroke="#000" stroke-width="0.22" class="j" textLength="43.80" lengthAdjust="spacingAndGlyphs">オシレータ</text>
<text transform="translate(76.82 328.60) scale(0.796 1)" x="2.75 8.25 13.75 19.25 24.75 30.25 35.76" y="0" font-size="9.30" fill="#000" stroke="#000" stroke-width="0.22" class="u" text-anchor="middle">:3.3347</text>
<rect x="6.7" y="507.6" width="155.1" height="38.6" fill="#ffffff"/>
<rect x="5.9" y="507.3" width="1" height="38.9" fill="#101010"/>
<rect x="5.9" y="507.0" width="155.9" height="0.7" fill="#202020"/>
<text x="7.50" y="516.00" font-size="8.76" fill="#000" stroke="#000" stroke-width="0.22" class="j" textLength="26.28" lengthAdjust="spacingAndGlyphs">出来高</text>
<text transform="translate(33.78 516.00) scale(0.796 1)" x="2.75" y="0" font-size="9.30" fill="#000" stroke="#000" stroke-width="0.22" class="u" text-anchor="middle">(</text>
<text x="38.16" y="516.00" font-size="8.76" fill="#000" stroke="#000" stroke-width="0.22" class="j" textLength="17.52" lengthAdjust="spacingAndGlyphs">白金</text>
<text x="60.06" y="516.00" font-size="8.76" fill="#000" stroke="#000" stroke-width="0.22" class="j" textLength="35.04" lengthAdjust="spacingAndGlyphs">先限連続</text>
<text transform="translate(95.10 516.00) scale(0.796 1)" x="2.75" y="0" font-size="9.30" fill="#000" stroke="#000" stroke-width="0.22" class="u" text-anchor="middle">)</text>
<path d="M145.80 515.7 L149.30 508.90000000000003 L152.80 515.7 Z" fill="none" stroke="#505050" stroke-width="0.9"/>
<path d="M155.20 509.1 L161.60 515.7 M161.60 509.1 L155.20 515.7" fill="none" stroke="#505050" stroke-width="0.9"/>
<rect x="7.3" y="521.40" width="7.6" height="4.2" fill="#00ffff"/>
<text x="15.50" y="525.50" font-size="8.76" fill="#000" stroke="#000" stroke-width="0.22" class="j" textLength="26.28" lengthAdjust="spacingAndGlyphs">出来高</text>
<text transform="translate(41.78 525.50) scale(0.796 1)" x="2.75 8.25 13.75 19.25 24.75" y="0" font-size="9.30" fill="#000" stroke="#000" stroke-width="0.22" class="u" text-anchor="middle">:5026</text>
<line x1="7.1000000000000005" x2="15.0" y1="531.7000000000002" y2="531.7000000000002" stroke="#40ee40" stroke-width="1.3"/>
<text x="15.50" y="535.10" font-size="8.76" fill="#000" stroke="#000" stroke-width="0.22" class="j" textLength="61.32" lengthAdjust="spacingAndGlyphs">出来高移動平均</text>
<text transform="translate(76.82 535.10) scale(0.796 1)" x="2.75 8.25 13.75 19.25" y="0" font-size="9.30" fill="#000" stroke="#000" stroke-width="0.22" class="u" text-anchor="middle">(9)(</text>
<text transform="translate(94.34 535.10) scale(0.565 1)" x="3.87 11.62 19.37" y="0" font-size="9.30" fill="#000" stroke="#000" stroke-width="0.22" class="u" text-anchor="middle">SMA</text>
<text transform="translate(107.48 535.10) scale(0.796 1)" x="2.75 8.25 13.75 19.25 24.75 30.25" y="0" font-size="9.30" fill="#000" stroke="#000" stroke-width="0.22" class="u" text-anchor="middle">):9679</text>
<line x1="7.1000000000000005" x2="15.0" y1="541.3000000000002" y2="541.3000000000002" stroke="#ff8cff" stroke-width="1" stroke-dasharray="1.6 0.8"/>
<text transform="translate(15.50 544.70) scale(0.652 1)" x="3.36 10.07 16.79 23.50" y="0" font-size="9.30" fill="#000" stroke="#000" stroke-width="0.22" class="u" text-anchor="middle">Slow</text>
<text x="33.02" y="544.70" font-size="8.76" fill="#000" stroke="#000" stroke-width="0.22" class="j" textLength="61.32" lengthAdjust="spacingAndGlyphs">出来高移動平均</text>
<text transform="translate(94.34 544.70) scale(0.796 1)" x="2.75 8.25 13.75 19.25 24.75" y="0" font-size="9.30" fill="#000" stroke="#000" stroke-width="0.22" class="u" text-anchor="middle">(26)(</text>
<text transform="translate(116.24 544.70) scale(0.565 1)" x="3.87 11.62 19.37" y="0" font-size="9.30" fill="#000" stroke="#000" stroke-width="0.22" class="u" text-anchor="middle">SMA</text>
<text transform="translate(129.38 544.70) scale(0.796 1)" x="2.75 8.25 13.75 19.25 24.75 30.25 35.76" y="0" font-size="9.30" fill="#000" stroke="#000" stroke-width="0.22" class="u" text-anchor="middle">):10300</text>
<g id="titlebar">
<!-- app icon -->
<path d="M8.6 5.2 V15.6 H19" fill="none" stroke="#9a9a9a" stroke-width="1"/>
<polyline points="9.8,13 11.6,10 13,11.4 14.8,7.6 16.4,6.6 18.2,10.4" fill="none" stroke="#4a90e0" stroke-width="1.3"/>
<g fill="#f03048"><circle cx="9.8" cy="13" r="0.9"/><circle cx="11.6" cy="10" r="0.9"/><circle cx="13" cy="11.4" r="0.9"/><circle cx="14.8" cy="7.6" r="0.9"/><circle cx="16.4" cy="6.6" r="0.9"/><circle cx="18.2" cy="10.4" r="0.9"/></g>
<text x="24" y="14" font-size="10.1" fill="#111" class="u" textLength="63.4" lengthAdjust="spacingAndGlyphs">白金[先限連続]</text>
<!-- link icon -->
<g fill="none" stroke="#7c7c7c" stroke-width="1.2" stroke-linecap="round">
<rect x="924.6" y="9.4" width="6.8" height="3.8" rx="1.9" transform="rotate(-42 928 11.3)"/>
<rect x="928.6" y="7.4" width="6.8" height="3.8" rx="1.9" transform="rotate(-42 932 9.3)"/>
<line x1="925.4" y1="15.4" x2="935" y2="5.4" stroke-width="0.9"/>
</g>
<!-- reload icon -->
<path d="M949.6 6.6 A4.4 4.4 0 1 0 950.6 12" fill="none" stroke="#6e6e6e" stroke-width="2.3"/>
<path d="M947.2 4.6 L951.4 4.8 L951 9 Z" fill="#6e6e6e"/>
<rect x="945.6" y="10.4" width="6" height="3.4" rx="0.9" fill="#f6f6f6" stroke="#6e6e6e" stroke-width="1.1"/>
<!-- windows icon -->
<rect x="956.6" y="5.4" width="8" height="10" fill="#efefef" stroke="#a0a0a0" stroke-width="0.9"/>
<rect x="959.8" y="8" width="7.6" height="5.2" rx="1" fill="#dcdcdc" stroke="#6a6a6a" stroke-width="1.5"/>
<!-- buttons -->
<g stroke="#a6a6a6" stroke-width="0.9" fill="url(#btn)">
<rect x="974.4" y="3.4" width="13.2" height="14.2" rx="2.2"/>
<rect x="990.5" y="3.4" width="13.2" height="14.2" rx="2.2"/>
<rect x="1006.5" y="3.4" width="13.1" height="14.2" rx="2.2"/>
</g>
<rect x="977.9" y="12.1" width="5" height="1.9" fill="#727272"/>
<rect x="994.6" y="8.2" width="5.4" height="5" fill="none" stroke="#727272" stroke-width="1.2"/>
<rect x="994" y="7.4" width="6.6" height="1.4" fill="#727272"/>
<path d="M1010 7.6 L1016.2 13.8 M1016.2 7.6 L1010 13.8" stroke="#727272" stroke-width="1.4" fill="none"/>
</g>
<g id="toolbar">
<text x="9.4" y="32.4" font-size="9.5" fill="#1c1c1c" class="u" textLength="18" lengthAdjust="spacingAndGlyphs">白金</text>
<text x="36.8" y="32.4" font-size="9.5" fill="#1c1c1c" class="u" textLength="38.4" lengthAdjust="spacingAndGlyphs">先限連続</text>
<text x="84.8" y="32.4" font-size="9.5" fill="#1c1c1c" class="u" textLength="18" lengthAdjust="spacingAndGlyphs">日足</text>
<path d="M107.8 27.2 H112.2 L110 29.8 Z" fill="#222"/>
<!-- spinner -->
<rect x="115.7" y="21.4" width="36.3" height="14" fill="#ffffff"/>
<text x="117.9" y="30.9" font-size="10.8" fill="#222" class="u" textLength="12.6" lengthAdjust="spacingAndGlyphs">100</text>
<rect x="140.2" y="22.2" width="10.4" height="5.8" fill="#ececec" stroke="#b8b8b8" stroke-width="0.6"/>
<rect x="140.2" y="28.4" width="10.4" height="5.8" fill="#ececec" stroke="#b8b8b8" stroke-width="0.6"/>
<path d="M143.2 26.6 L145.4 23.8 L147.6 26.6 Z M143.2 29.8 L145.4 32.6 L147.6 29.8 Z" fill="#222"/>
<!-- separators -->
<g stroke="#eef0f6" stroke-width="0.9"><line x1="155.8" y1="22" x2="155.8" y2="35"/><line x1="234" y1="22" x2="234" y2="35"/><line x1="275.4" y1="22" x2="275.4" y2="35"/><line x1="335.2" y1="22" x2="335.2" y2="35"/><line x1="474.6" y1="22" x2="474.6" y2="35"/></g>
<g stroke="#a8acba" stroke-width="0.8"><line x1="155" y1="22" x2="155" y2="35"/><line x1="233.2" y1="22" x2="233.2" y2="35"/><line x1="274.6" y1="22" x2="274.6" y2="35"/><line x1="334.4" y1="22" x2="334.4" y2="35"/><line x1="473.8" y1="22" x2="473.8" y2="35"/></g>
<!-- cursor arrow -->
<path d="M159.8 23 L168.6 26.2 L165.2 27.6 L168 31 L166.4 32.2 L163.8 28.8 L162 31.6 Z" fill="#e8e4ff" stroke="#6a4cc8" stroke-width="1.3" stroke-linejoin="round"/>
<!-- hand -->
<path d="M179.2 33.2 C178 31 176.6 29.4 177.2 28.6 C178 27.8 179 28.8 179.8 29.6 L179.6 24.6 C179.6 23.4 181.2 23.4 181.3 24.6 L181.5 23.2 C181.7 22 183.3 22.2 183.3 23.4 L183.4 24 C183.7 22.8 185.3 23 185.3 24.4 L185.4 25.4 C185.8 24.4 187.3 24.6 187.3 26 C187.5 28.6 187.6 31 186 33.2 Z" fill="#fff6e6" stroke="#c89858" stroke-width="1.1" stroke-linejoin="round"/>
<!-- pencil -->
<path d="M196 33 L197.4 29.2 L204.6 22.6 L207.2 25 L199.8 31.8 Z" fill="#f6b85a" stroke="#d8923a" stroke-width="0.9" stroke-linejoin="round"/>
<path d="M196 33 L197.4 29.2 L199.8 31.8 Z" fill="#e8cfa0"/>
<path d="M196 33 L196.7 31.2 L197.8 32.4 Z" fill="#555"/>
<!-- marker (selected) -->
<rect x="213.2" y="21" width="14" height="14.4" fill="#a9adb7"/>
<rect x="213.2" y="21" width="14" height="0.8" fill="#8d919c"/><rect x="213.2" y="21" width="0.8" height="14.4" fill="#8d919c"/>
<path d="M215.6 33.6 L217 30 L223.2 23.2 L226 25.6 L219.8 32.4 Z" fill="#3f86e8" stroke="#2a66c8" stroke-width="0.8" stroke-linejoin="round"/>
<path d="M215.6 33.6 L217 30 L219.8 32.4 Z" fill="#78b0f4"/>
<circle cx="224.4" cy="32" r="2.1" fill="#2a58b0"/>
<!-- crosshair (selected) -->
<rect x="236.6" y="21" width="13.2" height="14.4" fill="#c3c6cf"/>
<rect x="236.6" y="21" width="13.2" height="0.8" fill="#8d919c"/><rect x="236.6" y="21" width="0.8" height="14.4" fill="#8d919c"/>
<path d="M240.4 21.8 V35 M237.4 25.4 H249.6" stroke="#8a7ad8" stroke-width="1.5" fill="none"/>
<path d="M247.8 33.2 L243.6 28.8 M243 32 V28.2 H246.8" stroke="#7a22a8" stroke-width="1.5" fill="none"/>
<!-- blue circle chevron -->
<circle cx="261.1" cy="27.9" r="5.8" fill="#38a4e6"/>
<circle cx="261.1" cy="27.9" r="5.8" fill="none" stroke="#7cc8f4" stroke-width="0.8"/>
<path d="M258.2 29.4 L261.1 26.4 L264 29.4" fill="none" stroke="#fff" stroke-width="1.6"/>
<!-- chart settings icon -->
<rect x="279.4" y="22.6" width="10.6" height="10.6" fill="#f4f6fa" stroke="#3a78d0" stroke-width="1"/>
<rect x="279.4" y="22.6" width="10.6" height="2" fill="#3a78d0"/>
<path d="M282 25 V33 M284.6 29 V33 M287.2 29 V33 M280 30.8 H289.6" stroke="#b0b4bc" stroke-width="0.6"/>
<path d="M283.4 29 C283.8 26.6 285.4 25.6 288 25.6" fill="none" stroke="#f04a58" stroke-width="1.4"/>
<path d="M287 24 L289.4 25.6 L287 27.2 Z" fill="#f04a58"/>
<!-- table icon -->
<g fill="#eef2fa" stroke="#3a78d0" stroke-width="0.9"><rect x="297.4" y="22.6" width="11.2" height="3" /><rect x="297.4" y="26.4" width="11.2" height="3"/><rect x="297.4" y="30.2" width="11.2" height="3"/></g>
<path d="M299 24.1 H307 M299 27.9 H307 M299 31.7 H307" stroke="#9aa0ac" stroke-width="0.8" stroke-dasharray="2 1"/>
<!-- grid icon -->
<rect x="315.6" y="22.6" width="11.2" height="10.6" fill="#f2ead8"/>
<path d="M315.6 23 H326.8 M315.6 26.2 H326.8 M315.6 29.6 H326.8 M315.6 32.8 H326.8 M316 22.6 V33.2 M319.6 22.6 V33.2 M323 22.6 V33.2 M326.4 22.6 V33.2" stroke="#3a78d0" stroke-width="1" fill="none"/>
<path d="M315.6 27.9 H326.8" stroke="#f07088" stroke-width="0.8"/>
</g>

<g id="baricons">
<rect x="340.6" y="22" width="10.4" height="12" fill="#dfe3ec"/><rect x="341.4" y="28.4" width="1.7" height="5.2" fill="#2f8cf0"/><rect x="343.8" y="24.0" width="1.7" height="9.6" fill="#2f8cf0"/><rect x="346.2" y="26.2" width="1.7" height="7.4" fill="#2f8cf0"/><rect x="348.6" y="29.2" width="1.7" height="4.4" fill="#2f8cf0"/>
<path d="M353.4 27.2 H357.4 L355.4 29.6 Z" fill="#222"/>
<rect x="362.4" y="22" width="10.4" height="12" fill="#dfe3ec"/><rect x="363.2" y="28.4" width="1.7" height="5.2" fill="#2f8cf0"/><rect x="365.6" y="24.0" width="1.7" height="9.6" fill="#2f8cf0"/><rect x="368.0" y="26.2" width="1.7" height="7.4" fill="#2f8cf0"/><rect x="370.4" y="29.2" width="1.7" height="4.4" fill="#2f8cf0"/>
<path d="M363.4 24.6 L371.6 32.4 M371.6 24.6 L363.4 32.4" stroke="#f03a48" stroke-width="1.3"/>
<rect x="380.6" y="22" width="10.4" height="12" fill="#dfe3ec"/><rect x="390.20000000000005" y="22.6" width="0.9" height="11.6" fill="#a4a8b4"/><rect x="381.0" y="33.6" width="10" height="0.8" fill="#a4a8b4"/>
<rect x="381.2" y="28.2" width="1.6" height="5.2" fill="#2f8cf0"/>
<rect x="383.4" y="23.8" width="1.6" height="9.6" fill="#2f8cf0"/>
<rect x="385.6" y="26.4" width="1.6" height="7.0" fill="#2f8cf0"/>
<text x="387.0" y="33.2" font-size="6.6" font-weight="bold" fill="#2a64c0" class="u">1</text>
<rect x="398.8" y="22" width="10.4" height="12" fill="#dfe3ec"/><rect x="408.40000000000003" y="22.6" width="0.9" height="11.6" fill="#a4a8b4"/><rect x="399.2" y="33.6" width="10" height="0.8" fill="#a4a8b4"/>
<rect x="399.4" y="28.2" width="1.6" height="5.2" fill="#2f8cf0"/>
<rect x="401.6" y="23.8" width="1.6" height="9.6" fill="#2f8cf0"/>
<rect x="403.8" y="26.4" width="1.6" height="7.0" fill="#2f8cf0"/>
<text x="405.2" y="33.2" font-size="6.6" font-weight="bold" fill="#2a64c0" class="u">2</text>
<rect x="417.4" y="22" width="10.4" height="12" fill="#dfe3ec"/><rect x="427.0" y="22.6" width="0.9" height="11.6" fill="#a4a8b4"/><rect x="417.79999999999995" y="33.6" width="10" height="0.8" fill="#a4a8b4"/>
<rect x="418.0" y="28.2" width="1.6" height="5.2" fill="#2f8cf0"/>
<rect x="420.2" y="23.8" width="1.6" height="9.6" fill="#2f8cf0"/>
<rect x="422.4" y="26.4" width="1.6" height="7.0" fill="#2f8cf0"/>
<text x="423.8" y="33.2" font-size="6.6" font-weight="bold" fill="#2a64c0" class="u">3</text>
<rect x="436.2" y="22" width="10.4" height="12" fill="#dfe3ec"/><rect x="445.8" y="22.6" width="0.9" height="11.6" fill="#a4a8b4"/><rect x="436.59999999999997" y="33.6" width="10" height="0.8" fill="#a4a8b4"/>
<rect x="436.8" y="28.2" width="1.6" height="5.2" fill="#2f8cf0"/>
<rect x="439.0" y="23.8" width="1.6" height="9.6" fill="#2f8cf0"/>
<rect x="441.2" y="26.4" width="1.6" height="7.0" fill="#2f8cf0"/>
<text x="442.6" y="33.2" font-size="6.6" font-weight="bold" fill="#2a64c0" class="u">4</text>
<rect x="454.8" y="22" width="10.4" height="12" fill="#dfe3ec"/><rect x="464.40000000000003" y="22.6" width="0.9" height="11.6" fill="#a4a8b4"/><rect x="455.2" y="33.6" width="10" height="0.8" fill="#a4a8b4"/>
<rect x="455.4" y="28.2" width="1.6" height="5.2" fill="#2f8cf0"/>
<rect x="457.6" y="23.8" width="1.6" height="9.6" fill="#2f8cf0"/>
<rect x="459.8" y="26.4" width="1.6" height="7.0" fill="#2f8cf0"/>
<text x="461.2" y="33.2" font-size="6.6" font-weight="bold" fill="#2a64c0" class="u">5</text>
<path d="M480.2 25.2 A4.2 4.2 0 1 0 485.2 31.4" fill="none" stroke="#2f8ce8" stroke-width="2.2"/>
<path d="M477.6 22.6 L482.6 23 L479.6 27.2 Z" fill="#2f8ce8"/>
<text x="483.4" y="31" font-size="6.8" font-weight="bold" fill="#2a64c0" class="u">R</text>
<line x1="1002.4" y1="32.8" x2="1007.4" y2="28.8" stroke="#5546f0" stroke-width="2.3" stroke-linecap="round"/>
<path d="M1009.20 23.89 A2.7 2.7 0 1 0 1012.51 27.20" fill="none" stroke="#8676ea" stroke-width="1.7" stroke-linecap="round"/>
<path d="M1008.6 25 L1009.6 27.6" stroke="#ecebff" stroke-width="1" fill="none"/>
</g>
</svg></body></html>
